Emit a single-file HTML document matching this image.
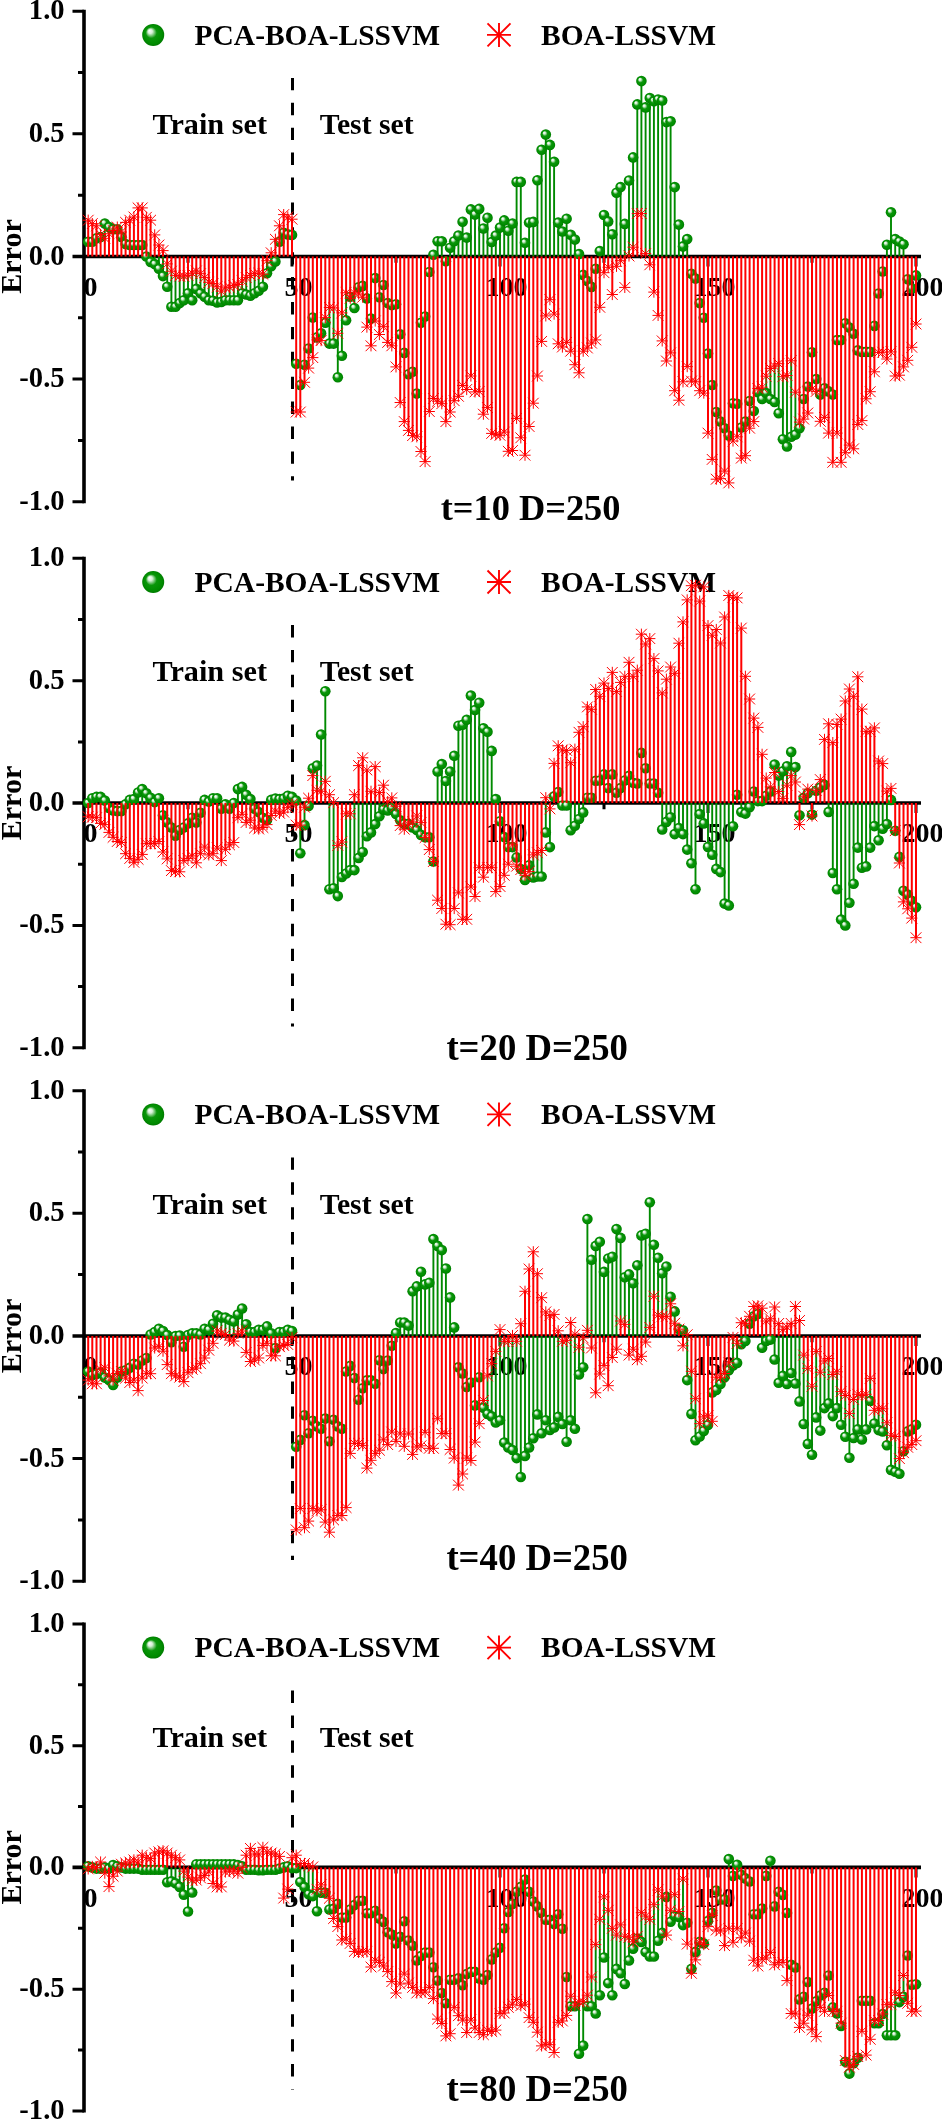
<!DOCTYPE html><html><head><meta charset="utf-8"><style>html,body{margin:0;padding:0;background:#fff;}svg{display:block;will-change:transform;}text{font-family:"Liberation Serif",serif;font-weight:bold;fill:#000;}</style></head><body>
<svg width="942" height="2120" viewBox="0 0 942 2120">
<defs><radialGradient id="gb" cx="0.5" cy="0.5" r="0.5" fx="0.33" fy="0.3"><stop offset="0" stop-color="#ffffff"/><stop offset="0.2" stop-color="#d8f0d8"/><stop offset="0.5" stop-color="#0a960a"/><stop offset="0.85" stop-color="#008c00"/><stop offset="1" stop-color="#007a00"/></radialGradient><g id="ball"><circle r="5.3" fill="url(#gb)"/></g><path id="ast" d="M-5.6 0H5.6M0 -5.6V5.6M-5.4 -5.4L5.4 5.4M-5.4 5.4L5.4 -5.4" stroke="#ff0000" stroke-width="1" fill="none"/></defs>
<rect width="942" height="2120" fill="#fff"/>
<text x="64.6" y="19.2" font-size="28.6" text-anchor="end">1.0</text>
<text x="64.6" y="141.8" font-size="28.6" text-anchor="end">0.5</text>
<text x="64.6" y="264.5" font-size="28.6" text-anchor="end">0.0</text>
<text x="64.6" y="387.1" font-size="28.6" text-anchor="end">-0.5</text>
<text x="64.6" y="509.8" font-size="28.6" text-anchor="end">-1.0</text>
<text transform="translate(21 256.5) rotate(-90)" font-size="30" text-anchor="middle">Error</text>
<text x="90.5" y="295.7" font-size="28" text-anchor="middle">0</text>
<text x="298.5" y="295.7" font-size="28" text-anchor="middle">50</text>
<text x="506.5" y="295.7" font-size="28" text-anchor="middle">100</text>
<text x="714.5" y="295.7" font-size="28" text-anchor="middle">150</text>
<text x="922.5" y="295.7" font-size="28" text-anchor="middle">200</text>
<circle cx="153.2" cy="34.9" r="11" fill="url(#gb)"/>
<text x="194.6" y="44.6" font-size="30" textLength="245.5" lengthAdjust="spacingAndGlyphs">PCA-BOA-LSSVM</text>
<path d="M487 34.9H511M499 22.9V46.9M487.5 23.4L510.5 46.4M487.5 46.4L510.5 23.4" stroke="#ff0000" stroke-width="1.9" fill="none"/>
<text x="541" y="44.6" font-size="30" textLength="175" lengthAdjust="spacingAndGlyphs">BOA-LSSVM</text>
<text x="152.5" y="134.2" font-size="30" textLength="114.5" lengthAdjust="spacingAndGlyphs">Train set</text>
<text x="319.8" y="134.2" font-size="30" textLength="93.8" lengthAdjust="spacingAndGlyphs">Test set</text>
<text x="440.7" y="520.0" font-size="35.5" textLength="179.8" lengthAdjust="spacingAndGlyphs">t=10 D=250</text>
<line x1="292.5" y1="77.9" x2="292.5" y2="480.5" stroke="#000" stroke-width="3" stroke-dasharray="12.4 12.5"/>
<line x1="84.0" y1="9.7" x2="84.0" y2="503.3" stroke="#000" stroke-width="3.6"/>
<path d="M72.5 11.2H84.0M72.5 133.8H84.0M72.5 379.1H84.0M72.5 501.8H84.0M78 72.5H84.0M78 195.2H84.0M78 317.8H84.0M78 440.5H84.0M188.0 256.5V262.7M396.0 256.5V262.7M604.0 256.5V262.7M812.0 256.5V262.7M292.0 256.5V266.5M500.0 256.5V266.5M708.0 256.5V266.5M916.0 256.5V266.5" stroke="#000" stroke-width="3" fill="none"/>
<line x1="72.5" y1="256.5" x2="921" y2="256.5" stroke="#000" stroke-width="3.7"/>
<path d="M104.8 238.3V223.6M109.0 233.7V227.1M113.1 230.5V229.3M146.4 256.5V256.5M150.6 256.5V261.9M154.7 256.5V264.1M158.9 256.5V268.8M163.0 256.5V276.1M167.2 263.9V286.7M171.4 271.2V306.8M175.5 275.4V306.8M179.7 276.1V303.1M183.8 276.1V300.2M188.0 275.4V293.3M192.2 273.2V300.2M196.3 271.0V288.9M200.5 273.7V293.3M204.6 277.6V296.7M208.8 282.3V300.2M213.0 283.5V300.7M217.1 286.7V302.4M221.3 291.1V301.9M225.4 287.9V300.2M229.6 287.2V300.2M233.8 285.4V300.2M237.9 284.5V300.2M242.1 281.0V293.3M246.2 277.6V294.5M250.4 275.4V295.7M254.6 273.7V293.3M258.7 273.2V290.8M262.9 274.2V286.7M267.0 260.7V273.2M271.2 256.5V266.3M275.4 256.5V261.4M325.3 317.6V322.7M329.4 307.5V343.6M333.6 308.0V343.6M337.8 333.3V377.2M341.9 312.9V355.8M346.1 292.8V320.3M354.4 292.8V308.0M433.4 256.5V254.8M437.6 256.5V241.3M441.8 256.5V241.3M450.1 256.5V247.7M454.2 256.5V241.3M458.4 256.5V235.6M462.6 256.5V221.7M466.7 256.5V237.6M470.9 256.5V209.4M475.0 256.5V214.6M479.2 256.5V208.9M483.4 256.5V228.5M487.5 256.5V217.7M491.7 256.5V242.0M495.8 256.5V235.6M500.0 256.5V227.6M504.2 256.5V220.4M508.3 256.5V230.7M512.5 256.5V223.6M516.6 256.5V181.9M520.8 256.5V181.9M525.0 256.5V242.8M529.1 256.5V222.6M533.3 256.5V221.9M537.4 256.5V180.2M541.6 256.5V149.8M545.8 256.5V134.6M549.9 256.5V144.9M554.1 256.5V161.8M558.2 256.5V222.6M562.4 256.5V231.5M566.6 256.5V218.7M570.7 256.5V234.7M574.9 256.5V239.6M579.0 256.5V254.0M599.8 256.5V251.1M604.0 256.5V215.0M608.2 256.5V221.4M612.3 256.5V234.2M616.5 256.5V192.7M620.6 256.5V187.1M624.8 256.5V223.9M629.0 256.0V180.5M633.1 247.2V157.4M637.3 213.6V104.4M641.4 213.6V81.1M645.6 253.6V107.4M649.8 256.5V98.0M653.9 256.5V101.2M658.1 256.5V99.5M662.2 256.5V100.5M666.4 256.5V122.1M670.6 256.5V121.3M674.7 256.5V187.1M678.9 256.5V224.6M683.0 256.5V246.4M687.2 256.5V239.1M757.9 388.5V392.2M762.1 387.2V399.0M766.2 376.2V393.1M770.4 368.4V399.0M774.6 366.1V402.0M778.7 363.7V413.2M782.9 376.7V439.2M787.0 375.5V446.4M791.2 360.8V436.8M795.4 392.2V434.6M799.5 422.1V428.2M886.9 256.5V244.7M891.0 256.5V212.3M895.2 256.5V239.1M899.4 256.5V241.5M903.5 256.5V244.2" stroke="#008a00" stroke-width="1.9" fill="none"/>
<use href="#ball" x="88.2" y="241.8"/><use href="#ball" x="92.3" y="241.8"/><use href="#ball" x="96.5" y="238.3"/><use href="#ball" x="100.6" y="237.1"/><use href="#ball" x="104.8" y="223.6"/><use href="#ball" x="109.0" y="227.1"/><use href="#ball" x="113.1" y="229.3"/><use href="#ball" x="117.3" y="229.3"/><use href="#ball" x="121.4" y="236.9"/><use href="#ball" x="125.6" y="244.0"/><use href="#ball" x="129.8" y="245.0"/><use href="#ball" x="133.9" y="245.0"/><use href="#ball" x="138.1" y="245.0"/><use href="#ball" x="142.2" y="245.0"/><use href="#ball" x="146.4" y="256.5"/><use href="#ball" x="150.6" y="261.9"/><use href="#ball" x="154.7" y="264.1"/><use href="#ball" x="158.9" y="268.8"/><use href="#ball" x="163.0" y="276.1"/><use href="#ball" x="167.2" y="286.7"/><use href="#ball" x="171.4" y="306.8"/><use href="#ball" x="175.5" y="306.8"/><use href="#ball" x="179.7" y="303.1"/><use href="#ball" x="183.8" y="300.2"/><use href="#ball" x="188.0" y="293.3"/><use href="#ball" x="192.2" y="300.2"/><use href="#ball" x="196.3" y="288.9"/><use href="#ball" x="200.5" y="293.3"/><use href="#ball" x="204.6" y="296.7"/><use href="#ball" x="208.8" y="300.2"/><use href="#ball" x="213.0" y="300.7"/><use href="#ball" x="217.1" y="302.4"/><use href="#ball" x="221.3" y="301.9"/><use href="#ball" x="225.4" y="300.2"/><use href="#ball" x="229.6" y="300.2"/><use href="#ball" x="233.8" y="300.2"/><use href="#ball" x="237.9" y="300.2"/><use href="#ball" x="242.1" y="293.3"/><use href="#ball" x="246.2" y="294.5"/><use href="#ball" x="250.4" y="295.7"/><use href="#ball" x="254.6" y="293.3"/><use href="#ball" x="258.7" y="290.8"/><use href="#ball" x="262.9" y="286.7"/><use href="#ball" x="267.0" y="273.2"/><use href="#ball" x="271.2" y="266.3"/><use href="#ball" x="275.4" y="261.4"/><use href="#ball" x="279.5" y="241.8"/><use href="#ball" x="283.7" y="232.7"/><use href="#ball" x="287.8" y="234.4"/><use href="#ball" x="292.0" y="234.9"/><use href="#ball" x="296.2" y="363.7"/><use href="#ball" x="300.3" y="385.0"/><use href="#ball" x="304.5" y="364.7"/><use href="#ball" x="308.6" y="348.5"/><use href="#ball" x="312.8" y="317.6"/><use href="#ball" x="317.0" y="337.4"/><use href="#ball" x="321.1" y="333.3"/><use href="#ball" x="325.3" y="322.7"/><use href="#ball" x="329.4" y="343.6"/><use href="#ball" x="333.6" y="343.6"/><use href="#ball" x="337.8" y="377.2"/><use href="#ball" x="341.9" y="355.8"/><use href="#ball" x="346.1" y="320.3"/><use href="#ball" x="350.2" y="296.7"/><use href="#ball" x="354.4" y="308.0"/><use href="#ball" x="358.6" y="287.2"/><use href="#ball" x="362.7" y="285.9"/><use href="#ball" x="366.9" y="298.4"/><use href="#ball" x="371.0" y="318.6"/><use href="#ball" x="375.2" y="278.1"/><use href="#ball" x="379.4" y="297.2"/><use href="#ball" x="383.5" y="285.0"/><use href="#ball" x="387.7" y="303.1"/><use href="#ball" x="391.8" y="305.1"/><use href="#ball" x="396.0" y="304.3"/><use href="#ball" x="400.2" y="334.3"/><use href="#ball" x="404.3" y="352.9"/><use href="#ball" x="408.5" y="374.2"/><use href="#ball" x="412.6" y="371.8"/><use href="#ball" x="416.8" y="393.6"/><use href="#ball" x="421.0" y="322.7"/><use href="#ball" x="425.1" y="316.6"/><use href="#ball" x="429.3" y="272.0"/><use href="#ball" x="433.4" y="254.8"/><use href="#ball" x="437.6" y="241.3"/><use href="#ball" x="441.8" y="241.3"/><use href="#ball" x="445.9" y="261.2"/><use href="#ball" x="450.1" y="247.7"/><use href="#ball" x="454.2" y="241.3"/><use href="#ball" x="458.4" y="235.6"/><use href="#ball" x="462.6" y="221.7"/><use href="#ball" x="466.7" y="237.6"/><use href="#ball" x="470.9" y="209.4"/><use href="#ball" x="475.0" y="214.6"/><use href="#ball" x="479.2" y="208.9"/><use href="#ball" x="483.4" y="228.5"/><use href="#ball" x="487.5" y="217.7"/><use href="#ball" x="491.7" y="242.0"/><use href="#ball" x="495.8" y="235.6"/><use href="#ball" x="500.0" y="227.6"/><use href="#ball" x="504.2" y="220.4"/><use href="#ball" x="508.3" y="230.7"/><use href="#ball" x="512.5" y="223.6"/><use href="#ball" x="516.6" y="181.9"/><use href="#ball" x="520.8" y="181.9"/><use href="#ball" x="525.0" y="242.8"/><use href="#ball" x="529.1" y="222.6"/><use href="#ball" x="533.3" y="221.9"/><use href="#ball" x="537.4" y="180.2"/><use href="#ball" x="541.6" y="149.8"/><use href="#ball" x="545.8" y="134.6"/><use href="#ball" x="549.9" y="144.9"/><use href="#ball" x="554.1" y="161.8"/><use href="#ball" x="558.2" y="222.6"/><use href="#ball" x="562.4" y="231.5"/><use href="#ball" x="566.6" y="218.7"/><use href="#ball" x="570.7" y="234.7"/><use href="#ball" x="574.9" y="239.6"/><use href="#ball" x="579.0" y="254.0"/><use href="#ball" x="583.2" y="274.9"/><use href="#ball" x="587.4" y="281.0"/><use href="#ball" x="591.5" y="286.9"/><use href="#ball" x="595.7" y="268.8"/><use href="#ball" x="599.8" y="251.1"/><use href="#ball" x="604.0" y="215.0"/><use href="#ball" x="608.2" y="221.4"/><use href="#ball" x="612.3" y="234.2"/><use href="#ball" x="616.5" y="192.7"/><use href="#ball" x="620.6" y="187.1"/><use href="#ball" x="624.8" y="223.9"/><use href="#ball" x="629.0" y="180.5"/><use href="#ball" x="633.1" y="157.4"/><use href="#ball" x="637.3" y="104.4"/><use href="#ball" x="641.4" y="81.1"/><use href="#ball" x="645.6" y="107.4"/><use href="#ball" x="649.8" y="98.0"/><use href="#ball" x="653.9" y="101.2"/><use href="#ball" x="658.1" y="99.5"/><use href="#ball" x="662.2" y="100.5"/><use href="#ball" x="666.4" y="122.1"/><use href="#ball" x="670.6" y="121.3"/><use href="#ball" x="674.7" y="187.1"/><use href="#ball" x="678.9" y="224.6"/><use href="#ball" x="683.0" y="246.4"/><use href="#ball" x="687.2" y="239.1"/><use href="#ball" x="691.4" y="273.7"/><use href="#ball" x="695.5" y="278.6"/><use href="#ball" x="699.7" y="303.1"/><use href="#ball" x="703.8" y="317.8"/><use href="#ball" x="708.0" y="353.6"/><use href="#ball" x="712.2" y="385.0"/><use href="#ball" x="716.3" y="412.0"/><use href="#ball" x="720.5" y="421.6"/><use href="#ball" x="724.6" y="428.2"/><use href="#ball" x="728.8" y="435.6"/><use href="#ball" x="733.0" y="403.2"/><use href="#ball" x="737.1" y="403.7"/><use href="#ball" x="741.3" y="427.5"/><use href="#ball" x="745.4" y="421.6"/><use href="#ball" x="749.6" y="401.0"/><use href="#ball" x="753.8" y="411.0"/><use href="#ball" x="757.9" y="392.2"/><use href="#ball" x="762.1" y="399.0"/><use href="#ball" x="766.2" y="393.1"/><use href="#ball" x="770.4" y="399.0"/><use href="#ball" x="774.6" y="402.0"/><use href="#ball" x="778.7" y="413.2"/><use href="#ball" x="782.9" y="439.2"/><use href="#ball" x="787.0" y="446.4"/><use href="#ball" x="791.2" y="436.8"/><use href="#ball" x="795.4" y="434.6"/><use href="#ball" x="799.5" y="428.2"/><use href="#ball" x="803.7" y="399.0"/><use href="#ball" x="807.8" y="386.5"/><use href="#ball" x="812.0" y="352.2"/><use href="#ball" x="816.2" y="379.1"/><use href="#ball" x="820.3" y="394.6"/><use href="#ball" x="824.5" y="388.2"/><use href="#ball" x="828.6" y="391.4"/><use href="#ball" x="832.8" y="394.6"/><use href="#ball" x="837.0" y="340.1"/><use href="#ball" x="841.1" y="340.1"/><use href="#ball" x="845.3" y="323.2"/><use href="#ball" x="849.4" y="327.6"/><use href="#ball" x="853.6" y="333.8"/><use href="#ball" x="857.8" y="350.4"/><use href="#ball" x="861.9" y="351.9"/><use href="#ball" x="866.1" y="351.9"/><use href="#ball" x="870.2" y="351.9"/><use href="#ball" x="874.4" y="325.9"/><use href="#ball" x="878.6" y="293.5"/><use href="#ball" x="882.7" y="271.5"/><use href="#ball" x="886.9" y="244.7"/><use href="#ball" x="891.0" y="212.3"/><use href="#ball" x="895.2" y="239.1"/><use href="#ball" x="899.4" y="241.5"/><use href="#ball" x="903.5" y="244.2"/><use href="#ball" x="907.7" y="279.3"/><use href="#ball" x="911.8" y="288.4"/><use href="#ball" x="916.0" y="275.4"/>
<path d="M88.2 256.5V220.2M92.3 256.5V223.6M96.5 256.5V225.8M100.6 256.5V234.4M104.8 256.5V238.3M109.0 256.5V233.7M113.1 256.5V230.5M117.3 256.5V227.1M121.4 256.5V232.0M125.6 256.5V222.4M129.8 256.5V220.2M133.9 256.5V217.0M138.1 256.5V207.9M142.2 256.5V207.9M146.4 256.5V217.3M150.6 256.5V220.2M154.7 256.5V234.9M158.9 256.5V245.0M163.0 256.5V250.6M167.2 256.5V263.9M171.4 256.5V271.2M175.5 256.5V275.4M179.7 256.5V276.1M183.8 256.5V276.1M188.0 256.5V275.4M192.2 256.5V273.2M196.3 256.5V271.0M200.5 256.5V273.7M204.6 256.5V277.6M208.8 256.5V282.3M213.0 256.5V283.5M217.1 256.5V286.7M221.3 256.5V291.1M225.4 256.5V287.9M229.6 256.5V287.2M233.8 256.5V285.4M237.9 256.5V284.5M242.1 256.5V281.0M246.2 256.5V277.6M250.4 256.5V275.4M254.6 256.5V273.7M258.7 256.5V273.2M262.9 256.5V274.2M267.0 256.5V260.7M271.2 256.5V252.8M275.4 256.5V239.3M279.5 256.5V225.8M283.7 256.5V214.6M287.8 256.5V217.0M292.0 256.5V219.2M296.2 256.5V412.0M300.3 256.5V412.0M304.5 256.5V382.3M308.6 256.5V368.1M312.8 256.5V357.6M317.0 256.5V339.9M321.1 256.5V340.6M325.3 256.5V317.6M329.4 256.5V307.5M333.6 256.5V308.0M337.8 256.5V333.3M341.9 256.5V312.9M346.1 256.5V292.8M350.2 256.5V298.2M354.4 256.5V292.8M358.6 256.5V294.0M362.7 256.5V297.2M366.9 256.5V327.1M371.0 256.5V345.8M375.2 256.5V321.0M379.4 256.5V334.5M383.5 256.5V326.7M387.7 256.5V342.4M391.8 256.5V345.8M396.0 256.5V366.9M400.2 256.5V402.5M404.3 256.5V421.6M408.5 256.5V430.4M412.6 256.5V435.6M416.8 256.5V436.8M421.0 256.5V451.5M425.1 256.5V461.6M429.3 256.5V411.5M433.4 256.5V398.5M437.6 256.5V401.2M441.8 256.5V403.7M445.9 256.5V421.6M450.1 256.5V412.0M454.2 256.5V400.7M458.4 256.5V396.3M462.6 256.5V385.5M466.7 256.5V389.5M470.9 256.5V376.0M475.0 256.5V391.9M479.2 256.5V391.4M483.4 256.5V414.2M487.5 256.5V407.6M491.7 256.5V433.4M495.8 256.5V434.6M500.0 256.5V435.3M504.2 256.5V432.1M508.3 256.5V451.3M512.5 256.5V450.5M516.6 256.5V418.4M520.8 256.5V437.8M525.0 256.5V455.2M529.1 256.5V426.5M533.3 256.5V403.2M537.4 256.5V376.0M541.6 256.5V341.4M545.8 256.5V315.9M549.9 256.5V299.7M554.1 256.5V314.1M558.2 256.5V343.8M562.4 256.5V347.0M566.6 256.5V342.4M570.7 256.5V351.2M574.9 256.5V364.7M579.0 256.5V372.8M583.2 256.5V351.2M587.4 256.5V348.0M591.5 256.5V343.1M595.7 256.5V339.9M599.8 256.5V307.3M604.0 256.5V272.7M608.2 256.5V267.3M612.3 256.5V294.5M616.5 256.5V266.3M620.6 256.5V260.7M624.8 256.5V287.4M629.0 256.5V256.0M633.1 256.5V247.2M637.3 256.5V213.6M641.4 256.5V213.6M645.6 256.5V253.6M649.8 256.5V264.8M653.9 256.5V292.1M658.1 256.5V315.4M662.2 256.5V340.9M666.4 256.5V361.0M670.6 256.5V352.9M674.7 256.5V390.7M678.9 256.5V400.2M683.0 256.5V381.8M687.2 256.5V366.6M691.4 256.5V381.1M695.5 256.5V381.8M699.7 256.5V390.7M703.8 256.5V393.1M708.0 256.5V433.1M712.2 256.5V459.4M716.3 256.5V479.2M720.5 256.5V478.7M724.6 256.5V471.1M728.8 256.5V482.9M733.0 256.5V441.0M737.1 256.5V436.8M741.3 256.5V458.1M745.4 256.5V455.7M749.6 256.5V428.2M753.8 256.5V421.6M757.9 256.5V388.5M762.1 256.5V387.2M766.2 256.5V376.2M770.4 256.5V368.4M774.6 256.5V366.1M778.7 256.5V363.7M782.9 256.5V376.7M787.0 256.5V375.5M791.2 256.5V360.8M795.4 256.5V392.2M799.5 256.5V422.1M803.7 256.5V419.1M807.8 256.5V413.0M812.0 256.5V389.0M816.2 256.5V391.4M820.3 256.5V421.3M824.5 256.5V417.4M828.6 256.5V433.1M832.8 256.5V462.3M837.0 256.5V433.1M841.1 256.5V462.3M845.3 256.5V452.7M849.4 256.5V445.1M853.6 256.5V448.8M857.8 256.5V424.5M861.9 256.5V420.6M866.1 256.5V398.8M870.2 256.5V391.7M874.4 256.5V371.8M878.6 256.5V352.4M882.7 256.5V352.2M886.9 256.5V359.0M891.0 256.5V351.9M895.2 256.5V376.0M899.4 256.5V375.2M903.5 256.5V366.9M907.7 256.5V360.3M911.8 256.5V347.3M916.0 256.5V324.0" stroke="#ff0000" stroke-width="2" fill="none"/>
<use href="#ast" x="88.2" y="220.2"/><use href="#ast" x="92.3" y="223.6"/><use href="#ast" x="96.5" y="225.8"/><use href="#ast" x="100.6" y="234.4"/><use href="#ast" x="104.8" y="238.3"/><use href="#ast" x="109.0" y="233.7"/><use href="#ast" x="113.1" y="230.5"/><use href="#ast" x="117.3" y="227.1"/><use href="#ast" x="121.4" y="232.0"/><use href="#ast" x="125.6" y="222.4"/><use href="#ast" x="129.8" y="220.2"/><use href="#ast" x="133.9" y="217.0"/><use href="#ast" x="138.1" y="207.9"/><use href="#ast" x="142.2" y="207.9"/><use href="#ast" x="146.4" y="217.3"/><use href="#ast" x="150.6" y="220.2"/><use href="#ast" x="154.7" y="234.9"/><use href="#ast" x="158.9" y="245.0"/><use href="#ast" x="163.0" y="250.6"/><use href="#ast" x="167.2" y="263.9"/><use href="#ast" x="171.4" y="271.2"/><use href="#ast" x="175.5" y="275.4"/><use href="#ast" x="179.7" y="276.1"/><use href="#ast" x="183.8" y="276.1"/><use href="#ast" x="188.0" y="275.4"/><use href="#ast" x="192.2" y="273.2"/><use href="#ast" x="196.3" y="271.0"/><use href="#ast" x="200.5" y="273.7"/><use href="#ast" x="204.6" y="277.6"/><use href="#ast" x="208.8" y="282.3"/><use href="#ast" x="213.0" y="283.5"/><use href="#ast" x="217.1" y="286.7"/><use href="#ast" x="221.3" y="291.1"/><use href="#ast" x="225.4" y="287.9"/><use href="#ast" x="229.6" y="287.2"/><use href="#ast" x="233.8" y="285.4"/><use href="#ast" x="237.9" y="284.5"/><use href="#ast" x="242.1" y="281.0"/><use href="#ast" x="246.2" y="277.6"/><use href="#ast" x="250.4" y="275.4"/><use href="#ast" x="254.6" y="273.7"/><use href="#ast" x="258.7" y="273.2"/><use href="#ast" x="262.9" y="274.2"/><use href="#ast" x="267.0" y="260.7"/><use href="#ast" x="271.2" y="252.8"/><use href="#ast" x="275.4" y="239.3"/><use href="#ast" x="279.5" y="225.8"/><use href="#ast" x="283.7" y="214.6"/><use href="#ast" x="287.8" y="217.0"/><use href="#ast" x="292.0" y="219.2"/><use href="#ast" x="296.2" y="412.0"/><use href="#ast" x="300.3" y="412.0"/><use href="#ast" x="304.5" y="382.3"/><use href="#ast" x="308.6" y="368.1"/><use href="#ast" x="312.8" y="357.6"/><use href="#ast" x="317.0" y="339.9"/><use href="#ast" x="321.1" y="340.6"/><use href="#ast" x="325.3" y="317.6"/><use href="#ast" x="329.4" y="307.5"/><use href="#ast" x="333.6" y="308.0"/><use href="#ast" x="337.8" y="333.3"/><use href="#ast" x="341.9" y="312.9"/><use href="#ast" x="346.1" y="292.8"/><use href="#ast" x="350.2" y="298.2"/><use href="#ast" x="354.4" y="292.8"/><use href="#ast" x="358.6" y="294.0"/><use href="#ast" x="362.7" y="297.2"/><use href="#ast" x="366.9" y="327.1"/><use href="#ast" x="371.0" y="345.8"/><use href="#ast" x="375.2" y="321.0"/><use href="#ast" x="379.4" y="334.5"/><use href="#ast" x="383.5" y="326.7"/><use href="#ast" x="387.7" y="342.4"/><use href="#ast" x="391.8" y="345.8"/><use href="#ast" x="396.0" y="366.9"/><use href="#ast" x="400.2" y="402.5"/><use href="#ast" x="404.3" y="421.6"/><use href="#ast" x="408.5" y="430.4"/><use href="#ast" x="412.6" y="435.6"/><use href="#ast" x="416.8" y="436.8"/><use href="#ast" x="421.0" y="451.5"/><use href="#ast" x="425.1" y="461.6"/><use href="#ast" x="429.3" y="411.5"/><use href="#ast" x="433.4" y="398.5"/><use href="#ast" x="437.6" y="401.2"/><use href="#ast" x="441.8" y="403.7"/><use href="#ast" x="445.9" y="421.6"/><use href="#ast" x="450.1" y="412.0"/><use href="#ast" x="454.2" y="400.7"/><use href="#ast" x="458.4" y="396.3"/><use href="#ast" x="462.6" y="385.5"/><use href="#ast" x="466.7" y="389.5"/><use href="#ast" x="470.9" y="376.0"/><use href="#ast" x="475.0" y="391.9"/><use href="#ast" x="479.2" y="391.4"/><use href="#ast" x="483.4" y="414.2"/><use href="#ast" x="487.5" y="407.6"/><use href="#ast" x="491.7" y="433.4"/><use href="#ast" x="495.8" y="434.6"/><use href="#ast" x="500.0" y="435.3"/><use href="#ast" x="504.2" y="432.1"/><use href="#ast" x="508.3" y="451.3"/><use href="#ast" x="512.5" y="450.5"/><use href="#ast" x="516.6" y="418.4"/><use href="#ast" x="520.8" y="437.8"/><use href="#ast" x="525.0" y="455.2"/><use href="#ast" x="529.1" y="426.5"/><use href="#ast" x="533.3" y="403.2"/><use href="#ast" x="537.4" y="376.0"/><use href="#ast" x="541.6" y="341.4"/><use href="#ast" x="545.8" y="315.9"/><use href="#ast" x="549.9" y="299.7"/><use href="#ast" x="554.1" y="314.1"/><use href="#ast" x="558.2" y="343.8"/><use href="#ast" x="562.4" y="347.0"/><use href="#ast" x="566.6" y="342.4"/><use href="#ast" x="570.7" y="351.2"/><use href="#ast" x="574.9" y="364.7"/><use href="#ast" x="579.0" y="372.8"/><use href="#ast" x="583.2" y="351.2"/><use href="#ast" x="587.4" y="348.0"/><use href="#ast" x="591.5" y="343.1"/><use href="#ast" x="595.7" y="339.9"/><use href="#ast" x="599.8" y="307.3"/><use href="#ast" x="604.0" y="272.7"/><use href="#ast" x="608.2" y="267.3"/><use href="#ast" x="612.3" y="294.5"/><use href="#ast" x="616.5" y="266.3"/><use href="#ast" x="620.6" y="260.7"/><use href="#ast" x="624.8" y="287.4"/><use href="#ast" x="629.0" y="256.0"/><use href="#ast" x="633.1" y="247.2"/><use href="#ast" x="637.3" y="213.6"/><use href="#ast" x="641.4" y="213.6"/><use href="#ast" x="645.6" y="253.6"/><use href="#ast" x="649.8" y="264.8"/><use href="#ast" x="653.9" y="292.1"/><use href="#ast" x="658.1" y="315.4"/><use href="#ast" x="662.2" y="340.9"/><use href="#ast" x="666.4" y="361.0"/><use href="#ast" x="670.6" y="352.9"/><use href="#ast" x="674.7" y="390.7"/><use href="#ast" x="678.9" y="400.2"/><use href="#ast" x="683.0" y="381.8"/><use href="#ast" x="687.2" y="366.6"/><use href="#ast" x="691.4" y="381.1"/><use href="#ast" x="695.5" y="381.8"/><use href="#ast" x="699.7" y="390.7"/><use href="#ast" x="703.8" y="393.1"/><use href="#ast" x="708.0" y="433.1"/><use href="#ast" x="712.2" y="459.4"/><use href="#ast" x="716.3" y="479.2"/><use href="#ast" x="720.5" y="478.7"/><use href="#ast" x="724.6" y="471.1"/><use href="#ast" x="728.8" y="482.9"/><use href="#ast" x="733.0" y="441.0"/><use href="#ast" x="737.1" y="436.8"/><use href="#ast" x="741.3" y="458.1"/><use href="#ast" x="745.4" y="455.7"/><use href="#ast" x="749.6" y="428.2"/><use href="#ast" x="753.8" y="421.6"/><use href="#ast" x="757.9" y="388.5"/><use href="#ast" x="762.1" y="387.2"/><use href="#ast" x="766.2" y="376.2"/><use href="#ast" x="770.4" y="368.4"/><use href="#ast" x="774.6" y="366.1"/><use href="#ast" x="778.7" y="363.7"/><use href="#ast" x="782.9" y="376.7"/><use href="#ast" x="787.0" y="375.5"/><use href="#ast" x="791.2" y="360.8"/><use href="#ast" x="795.4" y="392.2"/><use href="#ast" x="799.5" y="422.1"/><use href="#ast" x="803.7" y="419.1"/><use href="#ast" x="807.8" y="413.0"/><use href="#ast" x="812.0" y="389.0"/><use href="#ast" x="816.2" y="391.4"/><use href="#ast" x="820.3" y="421.3"/><use href="#ast" x="824.5" y="417.4"/><use href="#ast" x="828.6" y="433.1"/><use href="#ast" x="832.8" y="462.3"/><use href="#ast" x="837.0" y="433.1"/><use href="#ast" x="841.1" y="462.3"/><use href="#ast" x="845.3" y="452.7"/><use href="#ast" x="849.4" y="445.1"/><use href="#ast" x="853.6" y="448.8"/><use href="#ast" x="857.8" y="424.5"/><use href="#ast" x="861.9" y="420.6"/><use href="#ast" x="866.1" y="398.8"/><use href="#ast" x="870.2" y="391.7"/><use href="#ast" x="874.4" y="371.8"/><use href="#ast" x="878.6" y="352.4"/><use href="#ast" x="882.7" y="352.2"/><use href="#ast" x="886.9" y="359.0"/><use href="#ast" x="891.0" y="351.9"/><use href="#ast" x="895.2" y="376.0"/><use href="#ast" x="899.4" y="375.2"/><use href="#ast" x="903.5" y="366.9"/><use href="#ast" x="907.7" y="360.3"/><use href="#ast" x="911.8" y="347.3"/><use href="#ast" x="916.0" y="324.0"/>
<text x="64.6" y="566.3" font-size="28.6" text-anchor="end">1.0</text>
<text x="64.6" y="688.7" font-size="28.6" text-anchor="end">0.5</text>
<text x="64.6" y="811.0" font-size="28.6" text-anchor="end">0.0</text>
<text x="64.6" y="933.4" font-size="28.6" text-anchor="end">-0.5</text>
<text x="64.6" y="1055.8" font-size="28.6" text-anchor="end">-1.0</text>
<text transform="translate(21 803.0) rotate(-90)" font-size="30" text-anchor="middle">Error</text>
<text x="90.5" y="842.2" font-size="28" text-anchor="middle">0</text>
<text x="298.5" y="842.2" font-size="28" text-anchor="middle">50</text>
<text x="506.5" y="842.2" font-size="28" text-anchor="middle">100</text>
<text x="714.5" y="842.2" font-size="28" text-anchor="middle">150</text>
<text x="922.5" y="842.2" font-size="28" text-anchor="middle">200</text>
<circle cx="153.2" cy="582.0" r="11" fill="url(#gb)"/>
<text x="194.6" y="591.7" font-size="30" textLength="245.5" lengthAdjust="spacingAndGlyphs">PCA-BOA-LSSVM</text>
<path d="M487 582.0H511M499 570.0V594.0M487.5 570.5L510.5 593.5M487.5 593.5L510.5 570.5" stroke="#ff0000" stroke-width="1.9" fill="none"/>
<text x="541" y="591.7" font-size="30" textLength="175" lengthAdjust="spacingAndGlyphs">BOA-LSSVM</text>
<text x="152.5" y="681.3" font-size="30" textLength="114.5" lengthAdjust="spacingAndGlyphs">Train set</text>
<text x="319.8" y="681.3" font-size="30" textLength="93.8" lengthAdjust="spacingAndGlyphs">Test set</text>
<text x="446.4" y="1059.6" font-size="37" textLength="181.5" lengthAdjust="spacingAndGlyphs">t=20 D=250</text>
<line x1="292.5" y1="625.0" x2="292.5" y2="1026.5" stroke="#000" stroke-width="3" stroke-dasharray="12.4 12.5"/>
<line x1="84.0" y1="556.8" x2="84.0" y2="1049.3" stroke="#000" stroke-width="3.6"/>
<path d="M72.5 558.3H84.0M72.5 680.7H84.0M72.5 925.4H84.0M72.5 1047.8H84.0M78 619.5H84.0M78 741.9H84.0M78 864.2H84.0M78 986.6H84.0M188.0 803.0V809.2M396.0 803.0V809.2M604.0 803.0V809.2M812.0 803.0V809.2M292.0 803.0V813.0M500.0 803.0V813.0M708.0 803.0V813.0M916.0 803.0V813.0" stroke="#000" stroke-width="3" fill="none"/>
<line x1="72.5" y1="803.0" x2="921" y2="803.0" stroke="#000" stroke-width="3.7"/>
<path d="M88.2 803.0V803.0M92.3 803.0V798.2M96.5 803.0V796.9M100.6 803.0V796.9M104.8 803.0V800.6M129.8 803.0V799.9M133.9 803.0V799.1M138.1 803.0V792.5M142.2 803.0V789.1M146.4 803.0V793.3M150.6 803.0V797.7M154.7 803.0V802.1M158.9 803.0V798.2M204.6 803.0V799.9M208.8 803.0V801.6M213.0 803.0V798.2M217.1 803.0V798.2M233.8 803.0V803.0M237.9 803.0V789.1M242.1 803.0V786.9M246.2 803.0V794.7M250.4 803.0V799.1M271.2 803.0V799.9M275.4 803.0V798.6M279.5 803.0V799.1M283.7 803.0V798.6M287.8 803.0V795.7M292.0 803.0V796.9M296.2 803.0V800.6M300.3 825.1V853.2M304.5 807.2V825.1M308.6 803.0V806.0M312.8 775.6V768.3M317.0 790.3V765.6M321.1 791.3V734.5M325.3 781.3V691.2M329.4 803.0V889.2M333.6 803.0V888.2M337.8 845.4V896.1M341.9 842.0V877.0M346.1 813.8V873.5M350.2 813.8V870.1M354.4 803.0V870.1M358.6 803.0V857.9M362.7 803.0V852.0M366.9 803.0V836.3M371.0 803.0V832.4M375.2 803.0V824.1M379.4 803.0V816.3M383.5 803.0V809.4M387.7 803.0V810.4M391.8 803.0V807.9M396.0 806.2V814.1M412.6 821.9V827.5M416.8 816.0V830.0M421.0 822.6V834.9M437.6 803.0V771.5M441.8 803.0V764.1M445.9 803.0V781.0M450.1 803.0V771.5M454.2 803.0V755.8M458.4 803.0V725.7M462.6 803.0V724.7M466.7 803.0V719.8M470.9 803.0V695.6M475.0 803.0V710.0M479.2 803.0V702.7M483.4 803.0V728.2M487.5 803.0V731.8M491.7 803.0V750.9M495.8 803.0V799.1M512.5 844.9V847.1M525.0 875.3V879.9M533.3 854.9V877.5M537.4 852.7V876.5M541.6 850.5V876.5M545.8 803.0V832.4M549.9 808.9V847.1M562.4 803.0V805.5M566.6 803.0V805.5M570.7 803.0V830.2M574.9 803.0V825.8M579.0 803.0V819.0M583.2 803.0V812.4M662.2 803.0V829.5M666.4 803.0V821.9M670.6 803.0V817.2M674.7 803.0V834.1M678.9 803.0V828.0M683.0 803.0V834.1M687.2 803.0V849.6M691.4 803.0V863.3M695.5 803.0V889.2M699.7 803.0V814.1M703.8 803.0V823.4M708.0 803.0V846.9M712.2 803.0V854.7M716.3 803.0V868.9M720.5 803.0V872.1M724.6 803.0V903.6M728.8 803.0V905.4M733.0 803.0V826.3M741.3 803.0V812.1M745.4 803.0V813.6M749.6 803.0V807.2M774.6 772.5V764.6M778.7 791.5V775.6M782.9 798.6V771.2M787.0 785.2V766.3M791.2 775.6V751.9M795.4 782.0V767.1M828.6 803.0V811.9M832.8 803.0V873.0M837.0 803.0V889.2M841.1 803.0V919.6M845.3 803.0V925.4M849.4 803.0V902.7M853.6 803.0V883.8M857.8 803.0V847.6M861.9 803.0V867.7M866.1 803.0V866.4M870.2 803.0V847.6M874.4 803.0V826.1M878.6 803.0V840.3M882.7 803.0V828.7M886.9 803.0V824.1" stroke="#008a00" stroke-width="1.9" fill="none"/>
<use href="#ball" x="88.2" y="803.0"/><use href="#ball" x="92.3" y="798.2"/><use href="#ball" x="96.5" y="796.9"/><use href="#ball" x="100.6" y="796.9"/><use href="#ball" x="104.8" y="800.6"/><use href="#ball" x="109.0" y="807.9"/><use href="#ball" x="113.1" y="810.4"/><use href="#ball" x="117.3" y="811.1"/><use href="#ball" x="121.4" y="811.1"/><use href="#ball" x="125.6" y="804.3"/><use href="#ball" x="129.8" y="799.9"/><use href="#ball" x="133.9" y="799.1"/><use href="#ball" x="138.1" y="792.5"/><use href="#ball" x="142.2" y="789.1"/><use href="#ball" x="146.4" y="793.3"/><use href="#ball" x="150.6" y="797.7"/><use href="#ball" x="154.7" y="802.1"/><use href="#ball" x="158.9" y="798.2"/><use href="#ball" x="163.0" y="815.3"/><use href="#ball" x="167.2" y="822.4"/><use href="#ball" x="171.4" y="827.5"/><use href="#ball" x="175.5" y="835.8"/><use href="#ball" x="179.7" y="830.0"/><use href="#ball" x="183.8" y="827.5"/><use href="#ball" x="188.0" y="823.4"/><use href="#ball" x="192.2" y="817.7"/><use href="#ball" x="196.3" y="822.6"/><use href="#ball" x="200.5" y="812.8"/><use href="#ball" x="204.6" y="799.9"/><use href="#ball" x="208.8" y="801.6"/><use href="#ball" x="213.0" y="798.2"/><use href="#ball" x="217.1" y="798.2"/><use href="#ball" x="221.3" y="808.7"/><use href="#ball" x="225.4" y="804.3"/><use href="#ball" x="229.6" y="808.7"/><use href="#ball" x="233.8" y="803.0"/><use href="#ball" x="237.9" y="789.1"/><use href="#ball" x="242.1" y="786.9"/><use href="#ball" x="246.2" y="794.7"/><use href="#ball" x="250.4" y="799.1"/><use href="#ball" x="254.6" y="808.7"/><use href="#ball" x="258.7" y="812.1"/><use href="#ball" x="262.9" y="817.7"/><use href="#ball" x="267.0" y="819.9"/><use href="#ball" x="271.2" y="799.9"/><use href="#ball" x="275.4" y="798.6"/><use href="#ball" x="279.5" y="799.1"/><use href="#ball" x="283.7" y="798.6"/><use href="#ball" x="287.8" y="795.7"/><use href="#ball" x="292.0" y="796.9"/><use href="#ball" x="296.2" y="800.6"/><use href="#ball" x="300.3" y="853.2"/><use href="#ball" x="304.5" y="825.1"/><use href="#ball" x="308.6" y="806.0"/><use href="#ball" x="312.8" y="768.3"/><use href="#ball" x="317.0" y="765.6"/><use href="#ball" x="321.1" y="734.5"/><use href="#ball" x="325.3" y="691.2"/><use href="#ball" x="329.4" y="889.2"/><use href="#ball" x="333.6" y="888.2"/><use href="#ball" x="337.8" y="896.1"/><use href="#ball" x="341.9" y="877.0"/><use href="#ball" x="346.1" y="873.5"/><use href="#ball" x="350.2" y="870.1"/><use href="#ball" x="354.4" y="870.1"/><use href="#ball" x="358.6" y="857.9"/><use href="#ball" x="362.7" y="852.0"/><use href="#ball" x="366.9" y="836.3"/><use href="#ball" x="371.0" y="832.4"/><use href="#ball" x="375.2" y="824.1"/><use href="#ball" x="379.4" y="816.3"/><use href="#ball" x="383.5" y="809.4"/><use href="#ball" x="387.7" y="810.4"/><use href="#ball" x="391.8" y="807.9"/><use href="#ball" x="396.0" y="814.1"/><use href="#ball" x="400.2" y="820.2"/><use href="#ball" x="404.3" y="823.9"/><use href="#ball" x="408.5" y="823.9"/><use href="#ball" x="412.6" y="827.5"/><use href="#ball" x="416.8" y="830.0"/><use href="#ball" x="421.0" y="834.9"/><use href="#ball" x="425.1" y="837.3"/><use href="#ball" x="429.3" y="837.3"/><use href="#ball" x="433.4" y="861.5"/><use href="#ball" x="437.6" y="771.5"/><use href="#ball" x="441.8" y="764.1"/><use href="#ball" x="445.9" y="781.0"/><use href="#ball" x="450.1" y="771.5"/><use href="#ball" x="454.2" y="755.8"/><use href="#ball" x="458.4" y="725.7"/><use href="#ball" x="462.6" y="724.7"/><use href="#ball" x="466.7" y="719.8"/><use href="#ball" x="470.9" y="695.6"/><use href="#ball" x="475.0" y="710.0"/><use href="#ball" x="479.2" y="702.7"/><use href="#ball" x="483.4" y="728.2"/><use href="#ball" x="487.5" y="731.8"/><use href="#ball" x="491.7" y="750.9"/><use href="#ball" x="495.8" y="799.1"/><use href="#ball" x="500.0" y="821.2"/><use href="#ball" x="504.2" y="837.1"/><use href="#ball" x="508.3" y="847.1"/><use href="#ball" x="512.5" y="847.1"/><use href="#ball" x="516.6" y="857.4"/><use href="#ball" x="520.8" y="869.1"/><use href="#ball" x="525.0" y="879.9"/><use href="#ball" x="529.1" y="865.2"/><use href="#ball" x="533.3" y="877.5"/><use href="#ball" x="537.4" y="876.5"/><use href="#ball" x="541.6" y="876.5"/><use href="#ball" x="545.8" y="832.4"/><use href="#ball" x="549.9" y="847.1"/><use href="#ball" x="554.1" y="796.4"/><use href="#ball" x="558.2" y="792.0"/><use href="#ball" x="562.4" y="805.5"/><use href="#ball" x="566.6" y="805.5"/><use href="#ball" x="570.7" y="830.2"/><use href="#ball" x="574.9" y="825.8"/><use href="#ball" x="579.0" y="819.0"/><use href="#ball" x="583.2" y="812.4"/><use href="#ball" x="587.4" y="797.7"/><use href="#ball" x="591.5" y="797.7"/><use href="#ball" x="595.7" y="780.8"/><use href="#ball" x="599.8" y="780.5"/><use href="#ball" x="604.0" y="774.4"/><use href="#ball" x="608.2" y="788.1"/><use href="#ball" x="612.3" y="774.4"/><use href="#ball" x="616.5" y="792.8"/><use href="#ball" x="620.6" y="788.1"/><use href="#ball" x="624.8" y="780.5"/><use href="#ball" x="629.0" y="775.9"/><use href="#ball" x="633.1" y="782.7"/><use href="#ball" x="637.3" y="783.5"/><use href="#ball" x="641.4" y="752.9"/><use href="#ball" x="645.6" y="768.3"/><use href="#ball" x="649.8" y="783.5"/><use href="#ball" x="653.9" y="783.5"/><use href="#ball" x="658.1" y="792.8"/><use href="#ball" x="662.2" y="829.5"/><use href="#ball" x="666.4" y="821.9"/><use href="#ball" x="670.6" y="817.2"/><use href="#ball" x="674.7" y="834.1"/><use href="#ball" x="678.9" y="828.0"/><use href="#ball" x="683.0" y="834.1"/><use href="#ball" x="687.2" y="849.6"/><use href="#ball" x="691.4" y="863.3"/><use href="#ball" x="695.5" y="889.2"/><use href="#ball" x="699.7" y="814.1"/><use href="#ball" x="703.8" y="823.4"/><use href="#ball" x="708.0" y="846.9"/><use href="#ball" x="712.2" y="854.7"/><use href="#ball" x="716.3" y="868.9"/><use href="#ball" x="720.5" y="872.1"/><use href="#ball" x="724.6" y="903.6"/><use href="#ball" x="728.8" y="905.4"/><use href="#ball" x="733.0" y="826.3"/><use href="#ball" x="737.1" y="794.7"/><use href="#ball" x="741.3" y="812.1"/><use href="#ball" x="745.4" y="813.6"/><use href="#ball" x="749.6" y="807.2"/><use href="#ball" x="753.8" y="791.5"/><use href="#ball" x="757.9" y="801.1"/><use href="#ball" x="762.1" y="801.1"/><use href="#ball" x="766.2" y="795.7"/><use href="#ball" x="770.4" y="791.5"/><use href="#ball" x="774.6" y="764.6"/><use href="#ball" x="778.7" y="775.6"/><use href="#ball" x="782.9" y="771.2"/><use href="#ball" x="787.0" y="766.3"/><use href="#ball" x="791.2" y="751.9"/><use href="#ball" x="795.4" y="767.1"/><use href="#ball" x="799.5" y="815.3"/><use href="#ball" x="803.7" y="797.9"/><use href="#ball" x="807.8" y="793.3"/><use href="#ball" x="812.0" y="814.6"/><use href="#ball" x="816.2" y="790.8"/><use href="#ball" x="820.3" y="787.6"/><use href="#ball" x="824.5" y="784.9"/><use href="#ball" x="828.6" y="811.9"/><use href="#ball" x="832.8" y="873.0"/><use href="#ball" x="837.0" y="889.2"/><use href="#ball" x="841.1" y="919.6"/><use href="#ball" x="845.3" y="925.4"/><use href="#ball" x="849.4" y="902.7"/><use href="#ball" x="853.6" y="883.8"/><use href="#ball" x="857.8" y="847.6"/><use href="#ball" x="861.9" y="867.7"/><use href="#ball" x="866.1" y="866.4"/><use href="#ball" x="870.2" y="847.6"/><use href="#ball" x="874.4" y="826.1"/><use href="#ball" x="878.6" y="840.3"/><use href="#ball" x="882.7" y="828.7"/><use href="#ball" x="886.9" y="824.1"/><use href="#ball" x="891.0" y="799.9"/><use href="#ball" x="895.2" y="830.7"/><use href="#ball" x="899.4" y="856.9"/><use href="#ball" x="903.5" y="890.7"/><use href="#ball" x="907.7" y="894.6"/><use href="#ball" x="911.8" y="900.9"/><use href="#ball" x="916.0" y="907.3"/>
<path d="M88.2 803.0V816.8M92.3 803.0V817.2M96.5 803.0V817.7M100.6 803.0V823.4M104.8 803.0V824.6M109.0 803.0V832.4M113.1 803.0V837.3M117.3 803.0V841.5M121.4 803.0V842.5M125.6 803.0V853.7M129.8 803.0V858.4M133.9 803.0V862.3M138.1 803.0V859.3M142.2 803.0V854.4M146.4 803.0V843.7M150.6 803.0V843.7M154.7 803.0V843.7M158.9 803.0V841.5M163.0 803.0V852.0M167.2 803.0V858.9M171.4 803.0V870.6M175.5 803.0V871.6M179.7 803.0V871.8M183.8 803.0V860.6M188.0 803.0V858.4M192.2 803.0V855.9M196.3 803.0V862.8M200.5 803.0V853.7M204.6 803.0V847.1M208.8 803.0V854.9M213.0 803.0V853.7M217.1 803.0V848.1M221.3 803.0V860.6M225.4 803.0V849.3M229.6 803.0V844.9M233.8 803.0V842.5M237.9 803.0V817.7M242.1 803.0V814.3M246.2 803.0V822.4M250.4 803.0V820.2M254.6 803.0V828.0M258.7 803.0V829.0M262.9 803.0V827.5M267.0 803.0V824.6M271.2 803.0V815.5M275.4 803.0V811.1M279.5 803.0V813.3M283.7 803.0V812.1M287.8 803.0V807.7M292.0 803.0V804.3M296.2 803.0V825.1M300.3 803.0V825.1M304.5 803.0V807.2M308.6 803.0V798.2M312.8 803.0V775.6M317.0 803.0V790.3M321.1 803.0V791.3M325.3 803.0V781.3M329.4 803.0V794.7M333.6 803.0V802.6M337.8 803.0V845.4M341.9 803.0V842.0M346.1 803.0V813.8M350.2 803.0V813.8M354.4 803.0V794.7M358.6 803.0V765.6M362.7 803.0V757.8M366.9 803.0V770.0M371.0 803.0V791.3M375.2 803.0V766.6M379.4 803.0V792.5M383.5 803.0V785.2M387.7 803.0V801.6M391.8 803.0V797.9M396.0 803.0V806.2M400.2 803.0V825.6M404.3 803.0V829.2M408.5 803.0V824.3M412.6 803.0V821.9M416.8 803.0V816.0M421.0 803.0V822.6M425.1 803.0V837.6M429.3 803.0V849.6M433.4 803.0V861.5M437.6 803.0V900.2M441.8 803.0V908.5M445.9 803.0V924.2M450.1 803.0V924.7M454.2 803.0V908.5M458.4 803.0V892.9M462.6 803.0V919.3M466.7 803.0V919.3M470.9 803.0V887.0M475.0 803.0V896.5M479.2 803.0V867.7M483.4 803.0V877.2M487.5 803.0V867.7M491.7 803.0V867.7M495.8 803.0V891.6M500.0 803.0V886.5M504.2 803.0V875.3M508.3 803.0V864.2M512.5 803.0V844.9M516.6 803.0V866.2M520.8 803.0V869.6M525.0 803.0V875.3M529.1 803.0V871.6M533.3 803.0V854.9M537.4 803.0V852.7M541.6 803.0V850.5M545.8 803.0V797.7M549.9 803.0V808.9M554.1 803.0V763.4M558.2 803.0V745.8M562.4 803.0V749.9M566.6 803.0V750.4M570.7 803.0V762.7M574.9 803.0V749.2M579.0 803.0V732.3M583.2 803.0V726.7M587.4 803.0V706.9M591.5 803.0V709.3M595.7 803.0V689.5M599.8 803.0V696.3M604.0 803.0V683.1M608.2 803.0V688.5M612.3 803.0V672.4M616.5 803.0V691.4M620.6 803.0V682.4M624.8 803.0V676.3M629.0 803.0V662.3M633.1 803.0V676.3M637.3 803.0V670.2M641.4 803.0V634.2M645.6 803.0V644.0M649.8 803.0V638.6M653.9 803.0V658.6M658.1 803.0V670.9M662.2 803.0V692.9M666.4 803.0V679.2M670.6 803.0V667.0M674.7 803.0V673.3M678.9 803.0V643.2M683.0 803.0V621.9M687.2 803.0V599.9M691.4 803.0V585.7M695.5 803.0V585.2M699.7 803.0V601.1M703.8 803.0V586.9M708.0 803.0V625.6M712.2 803.0V635.2M716.3 803.0V629.5M720.5 803.0V643.0M724.6 803.0V617.0M728.8 803.0V595.5M733.0 803.0V597.2M737.1 803.0V597.9M741.3 803.0V628.1M745.4 803.0V676.3M749.6 803.0V699.0M753.8 803.0V718.1M757.9 803.0V727.4M762.1 803.0V754.3M766.2 803.0V778.1M770.4 803.0V786.9M774.6 803.0V772.5M778.7 803.0V791.5M782.9 803.0V798.6M787.0 803.0V785.2M791.2 803.0V775.6M795.4 803.0V782.0M799.5 803.0V824.6M803.7 803.0V796.2M807.8 803.0V789.1M812.0 803.0V816.0M816.2 803.0V790.3M820.3 803.0V779.6M824.5 803.0V739.4M828.6 803.0V723.8M832.8 803.0V742.6M837.0 803.0V724.5M841.1 803.0V719.1M845.3 803.0V701.0M849.4 803.0V689.0M853.6 803.0V696.3M857.8 803.0V676.8M861.9 803.0V709.1M866.1 803.0V731.3M870.2 803.0V731.3M874.4 803.0V727.9M878.6 803.0V761.0M882.7 803.0V763.6M886.9 803.0V791.1M891.0 803.0V788.4M895.2 803.0V830.7M899.4 803.0V863.0M903.5 803.0V901.9M907.7 803.0V908.8M911.8 803.0V918.1M916.0 803.0V937.7" stroke="#ff0000" stroke-width="2" fill="none"/>
<use href="#ast" x="88.2" y="816.8"/><use href="#ast" x="92.3" y="817.2"/><use href="#ast" x="96.5" y="817.7"/><use href="#ast" x="100.6" y="823.4"/><use href="#ast" x="104.8" y="824.6"/><use href="#ast" x="109.0" y="832.4"/><use href="#ast" x="113.1" y="837.3"/><use href="#ast" x="117.3" y="841.5"/><use href="#ast" x="121.4" y="842.5"/><use href="#ast" x="125.6" y="853.7"/><use href="#ast" x="129.8" y="858.4"/><use href="#ast" x="133.9" y="862.3"/><use href="#ast" x="138.1" y="859.3"/><use href="#ast" x="142.2" y="854.4"/><use href="#ast" x="146.4" y="843.7"/><use href="#ast" x="150.6" y="843.7"/><use href="#ast" x="154.7" y="843.7"/><use href="#ast" x="158.9" y="841.5"/><use href="#ast" x="163.0" y="852.0"/><use href="#ast" x="167.2" y="858.9"/><use href="#ast" x="171.4" y="870.6"/><use href="#ast" x="175.5" y="871.6"/><use href="#ast" x="179.7" y="871.8"/><use href="#ast" x="183.8" y="860.6"/><use href="#ast" x="188.0" y="858.4"/><use href="#ast" x="192.2" y="855.9"/><use href="#ast" x="196.3" y="862.8"/><use href="#ast" x="200.5" y="853.7"/><use href="#ast" x="204.6" y="847.1"/><use href="#ast" x="208.8" y="854.9"/><use href="#ast" x="213.0" y="853.7"/><use href="#ast" x="217.1" y="848.1"/><use href="#ast" x="221.3" y="860.6"/><use href="#ast" x="225.4" y="849.3"/><use href="#ast" x="229.6" y="844.9"/><use href="#ast" x="233.8" y="842.5"/><use href="#ast" x="237.9" y="817.7"/><use href="#ast" x="242.1" y="814.3"/><use href="#ast" x="246.2" y="822.4"/><use href="#ast" x="250.4" y="820.2"/><use href="#ast" x="254.6" y="828.0"/><use href="#ast" x="258.7" y="829.0"/><use href="#ast" x="262.9" y="827.5"/><use href="#ast" x="267.0" y="824.6"/><use href="#ast" x="271.2" y="815.5"/><use href="#ast" x="275.4" y="811.1"/><use href="#ast" x="279.5" y="813.3"/><use href="#ast" x="283.7" y="812.1"/><use href="#ast" x="287.8" y="807.7"/><use href="#ast" x="292.0" y="804.3"/><use href="#ast" x="296.2" y="825.1"/><use href="#ast" x="300.3" y="825.1"/><use href="#ast" x="304.5" y="807.2"/><use href="#ast" x="308.6" y="798.2"/><use href="#ast" x="312.8" y="775.6"/><use href="#ast" x="317.0" y="790.3"/><use href="#ast" x="321.1" y="791.3"/><use href="#ast" x="325.3" y="781.3"/><use href="#ast" x="329.4" y="794.7"/><use href="#ast" x="333.6" y="802.6"/><use href="#ast" x="337.8" y="845.4"/><use href="#ast" x="341.9" y="842.0"/><use href="#ast" x="346.1" y="813.8"/><use href="#ast" x="350.2" y="813.8"/><use href="#ast" x="354.4" y="794.7"/><use href="#ast" x="358.6" y="765.6"/><use href="#ast" x="362.7" y="757.8"/><use href="#ast" x="366.9" y="770.0"/><use href="#ast" x="371.0" y="791.3"/><use href="#ast" x="375.2" y="766.6"/><use href="#ast" x="379.4" y="792.5"/><use href="#ast" x="383.5" y="785.2"/><use href="#ast" x="387.7" y="801.6"/><use href="#ast" x="391.8" y="797.9"/><use href="#ast" x="396.0" y="806.2"/><use href="#ast" x="400.2" y="825.6"/><use href="#ast" x="404.3" y="829.2"/><use href="#ast" x="408.5" y="824.3"/><use href="#ast" x="412.6" y="821.9"/><use href="#ast" x="416.8" y="816.0"/><use href="#ast" x="421.0" y="822.6"/><use href="#ast" x="425.1" y="837.6"/><use href="#ast" x="429.3" y="849.6"/><use href="#ast" x="433.4" y="861.5"/><use href="#ast" x="437.6" y="900.2"/><use href="#ast" x="441.8" y="908.5"/><use href="#ast" x="445.9" y="924.2"/><use href="#ast" x="450.1" y="924.7"/><use href="#ast" x="454.2" y="908.5"/><use href="#ast" x="458.4" y="892.9"/><use href="#ast" x="462.6" y="919.3"/><use href="#ast" x="466.7" y="919.3"/><use href="#ast" x="470.9" y="887.0"/><use href="#ast" x="475.0" y="896.5"/><use href="#ast" x="479.2" y="867.7"/><use href="#ast" x="483.4" y="877.2"/><use href="#ast" x="487.5" y="867.7"/><use href="#ast" x="491.7" y="867.7"/><use href="#ast" x="495.8" y="891.6"/><use href="#ast" x="500.0" y="886.5"/><use href="#ast" x="504.2" y="875.3"/><use href="#ast" x="508.3" y="864.2"/><use href="#ast" x="512.5" y="844.9"/><use href="#ast" x="516.6" y="866.2"/><use href="#ast" x="520.8" y="869.6"/><use href="#ast" x="525.0" y="875.3"/><use href="#ast" x="529.1" y="871.6"/><use href="#ast" x="533.3" y="854.9"/><use href="#ast" x="537.4" y="852.7"/><use href="#ast" x="541.6" y="850.5"/><use href="#ast" x="545.8" y="797.7"/><use href="#ast" x="549.9" y="808.9"/><use href="#ast" x="554.1" y="763.4"/><use href="#ast" x="558.2" y="745.8"/><use href="#ast" x="562.4" y="749.9"/><use href="#ast" x="566.6" y="750.4"/><use href="#ast" x="570.7" y="762.7"/><use href="#ast" x="574.9" y="749.2"/><use href="#ast" x="579.0" y="732.3"/><use href="#ast" x="583.2" y="726.7"/><use href="#ast" x="587.4" y="706.9"/><use href="#ast" x="591.5" y="709.3"/><use href="#ast" x="595.7" y="689.5"/><use href="#ast" x="599.8" y="696.3"/><use href="#ast" x="604.0" y="683.1"/><use href="#ast" x="608.2" y="688.5"/><use href="#ast" x="612.3" y="672.4"/><use href="#ast" x="616.5" y="691.4"/><use href="#ast" x="620.6" y="682.4"/><use href="#ast" x="624.8" y="676.3"/><use href="#ast" x="629.0" y="662.3"/><use href="#ast" x="633.1" y="676.3"/><use href="#ast" x="637.3" y="670.2"/><use href="#ast" x="641.4" y="634.2"/><use href="#ast" x="645.6" y="644.0"/><use href="#ast" x="649.8" y="638.6"/><use href="#ast" x="653.9" y="658.6"/><use href="#ast" x="658.1" y="670.9"/><use href="#ast" x="662.2" y="692.9"/><use href="#ast" x="666.4" y="679.2"/><use href="#ast" x="670.6" y="667.0"/><use href="#ast" x="674.7" y="673.3"/><use href="#ast" x="678.9" y="643.2"/><use href="#ast" x="683.0" y="621.9"/><use href="#ast" x="687.2" y="599.9"/><use href="#ast" x="691.4" y="585.7"/><use href="#ast" x="695.5" y="585.2"/><use href="#ast" x="699.7" y="601.1"/><use href="#ast" x="703.8" y="586.9"/><use href="#ast" x="708.0" y="625.6"/><use href="#ast" x="712.2" y="635.2"/><use href="#ast" x="716.3" y="629.5"/><use href="#ast" x="720.5" y="643.0"/><use href="#ast" x="724.6" y="617.0"/><use href="#ast" x="728.8" y="595.5"/><use href="#ast" x="733.0" y="597.2"/><use href="#ast" x="737.1" y="597.9"/><use href="#ast" x="741.3" y="628.1"/><use href="#ast" x="745.4" y="676.3"/><use href="#ast" x="749.6" y="699.0"/><use href="#ast" x="753.8" y="718.1"/><use href="#ast" x="757.9" y="727.4"/><use href="#ast" x="762.1" y="754.3"/><use href="#ast" x="766.2" y="778.1"/><use href="#ast" x="770.4" y="786.9"/><use href="#ast" x="774.6" y="772.5"/><use href="#ast" x="778.7" y="791.5"/><use href="#ast" x="782.9" y="798.6"/><use href="#ast" x="787.0" y="785.2"/><use href="#ast" x="791.2" y="775.6"/><use href="#ast" x="795.4" y="782.0"/><use href="#ast" x="799.5" y="824.6"/><use href="#ast" x="803.7" y="796.2"/><use href="#ast" x="807.8" y="789.1"/><use href="#ast" x="812.0" y="816.0"/><use href="#ast" x="816.2" y="790.3"/><use href="#ast" x="820.3" y="779.6"/><use href="#ast" x="824.5" y="739.4"/><use href="#ast" x="828.6" y="723.8"/><use href="#ast" x="832.8" y="742.6"/><use href="#ast" x="837.0" y="724.5"/><use href="#ast" x="841.1" y="719.1"/><use href="#ast" x="845.3" y="701.0"/><use href="#ast" x="849.4" y="689.0"/><use href="#ast" x="853.6" y="696.3"/><use href="#ast" x="857.8" y="676.8"/><use href="#ast" x="861.9" y="709.1"/><use href="#ast" x="866.1" y="731.3"/><use href="#ast" x="870.2" y="731.3"/><use href="#ast" x="874.4" y="727.9"/><use href="#ast" x="878.6" y="761.0"/><use href="#ast" x="882.7" y="763.6"/><use href="#ast" x="886.9" y="791.1"/><use href="#ast" x="891.0" y="788.4"/><use href="#ast" x="895.2" y="830.7"/><use href="#ast" x="899.4" y="863.0"/><use href="#ast" x="903.5" y="901.9"/><use href="#ast" x="907.7" y="908.8"/><use href="#ast" x="911.8" y="918.1"/><use href="#ast" x="916.0" y="937.7"/>
<text x="64.6" y="1098.7" font-size="28.6" text-anchor="end">1.0</text>
<text x="64.6" y="1221.3" font-size="28.6" text-anchor="end">0.5</text>
<text x="64.6" y="1344.0" font-size="28.6" text-anchor="end">0.0</text>
<text x="64.6" y="1466.6" font-size="28.6" text-anchor="end">-0.5</text>
<text x="64.6" y="1589.2" font-size="28.6" text-anchor="end">-1.0</text>
<text transform="translate(21 1336.0) rotate(-90)" font-size="30" text-anchor="middle">Error</text>
<text x="90.5" y="1375.2" font-size="28" text-anchor="middle">0</text>
<text x="298.5" y="1375.2" font-size="28" text-anchor="middle">50</text>
<text x="506.5" y="1375.2" font-size="28" text-anchor="middle">100</text>
<text x="714.5" y="1375.2" font-size="28" text-anchor="middle">150</text>
<text x="922.5" y="1375.2" font-size="28" text-anchor="middle">200</text>
<circle cx="153.2" cy="1114.4" r="11" fill="url(#gb)"/>
<text x="194.6" y="1124.1" font-size="30" textLength="245.5" lengthAdjust="spacingAndGlyphs">PCA-BOA-LSSVM</text>
<path d="M487 1114.4H511M499 1102.4V1126.4M487.5 1102.9L510.5 1125.9M487.5 1125.9L510.5 1102.9" stroke="#ff0000" stroke-width="1.9" fill="none"/>
<text x="541" y="1124.1" font-size="30" textLength="175" lengthAdjust="spacingAndGlyphs">BOA-LSSVM</text>
<text x="152.5" y="1213.7" font-size="30" textLength="114.5" lengthAdjust="spacingAndGlyphs">Train set</text>
<text x="319.8" y="1213.7" font-size="30" textLength="93.8" lengthAdjust="spacingAndGlyphs">Test set</text>
<text x="446.4" y="1569.6" font-size="37" textLength="181.5" lengthAdjust="spacingAndGlyphs">t=40 D=250</text>
<line x1="292.5" y1="1157.4" x2="292.5" y2="1559.9" stroke="#000" stroke-width="3" stroke-dasharray="12.4 12.5"/>
<line x1="84.0" y1="1089.2" x2="84.0" y2="1582.7" stroke="#000" stroke-width="3.6"/>
<path d="M72.5 1090.7H84.0M72.5 1213.3H84.0M72.5 1458.6H84.0M72.5 1581.2H84.0M78 1152.0H84.0M78 1274.6H84.0M78 1397.3H84.0M78 1519.9H84.0M188.0 1336.0V1342.2M396.0 1336.0V1342.2M604.0 1336.0V1342.2M812.0 1336.0V1342.2M292.0 1336.0V1346.0M500.0 1336.0V1346.0M708.0 1336.0V1346.0M916.0 1336.0V1346.0" stroke="#000" stroke-width="3" fill="none"/>
<line x1="72.5" y1="1336.0" x2="921" y2="1336.0" stroke="#000" stroke-width="3.7"/>
<path d="M100.6 1369.3V1372.7M104.8 1367.8V1377.6M109.0 1375.9V1380.1M113.1 1380.1V1385.0M117.3 1373.7V1377.6M150.6 1336.0V1334.5M154.7 1336.0V1332.0M158.9 1336.0V1328.8M163.0 1336.0V1331.0M167.2 1336.0V1335.0M175.5 1336.0V1336.0M179.7 1336.0V1335.5M188.0 1336.0V1335.0M192.2 1336.0V1333.3M196.3 1336.0V1333.3M200.5 1336.0V1334.5M204.6 1336.0V1328.8M208.8 1336.0V1329.8M213.0 1336.0V1323.7M217.1 1331.0V1315.3M221.3 1333.3V1317.6M225.4 1334.5V1317.6M229.6 1336.0V1319.8M233.8 1336.0V1321.5M237.9 1333.3V1314.6M242.1 1331.0V1308.5M246.2 1336.0V1324.2M250.4 1336.0V1332.0M254.6 1336.0V1332.0M258.7 1336.0V1329.8M262.9 1336.0V1329.8M267.0 1336.0V1326.4M271.2 1336.0V1333.3M279.5 1336.0V1332.0M283.7 1336.0V1332.0M287.8 1336.0V1329.8M292.0 1336.0V1331.0M396.0 1336.0V1333.0M400.2 1336.0V1322.5M404.3 1336.0V1322.5M408.5 1336.0V1325.6M412.6 1336.0V1291.3M416.8 1336.0V1286.4M421.0 1336.0V1271.7M425.1 1336.0V1284.4M429.3 1336.0V1282.7M433.4 1336.0V1239.1M437.6 1336.0V1245.9M441.8 1336.0V1250.1M445.9 1336.0V1268.5M450.1 1336.0V1297.4M454.2 1336.0V1327.4M483.4 1400.5V1407.8M487.5 1375.9V1413.9M491.7 1363.7V1416.4M495.8 1351.4V1422.5M500.0 1336.0V1420.3M504.2 1341.3V1442.6M508.3 1341.3V1447.5M512.5 1336.0V1450.0M516.6 1341.3V1458.1M520.8 1336.0V1477.0M525.0 1336.0V1455.9M529.1 1336.0V1447.5M533.3 1336.0V1438.2M537.4 1336.0V1414.4M541.6 1336.0V1433.3M545.8 1336.0V1420.3M549.9 1336.0V1429.9M554.1 1336.0V1427.4M558.2 1336.0V1416.9M562.4 1341.3V1424.0M566.6 1340.4V1441.7M570.7 1336.0V1420.3M574.9 1336.0V1428.7M579.0 1347.2V1374.5M583.2 1337.9V1367.3M587.4 1330.3V1219.0M591.5 1336.0V1259.7M595.7 1336.0V1245.9M599.8 1336.0V1241.8M604.0 1336.0V1271.9M608.2 1336.0V1258.5M612.3 1336.0V1256.7M616.5 1336.0V1229.0M620.6 1321.0V1237.9M624.8 1324.4V1277.3M629.0 1336.0V1274.4M633.1 1336.0V1283.2M637.3 1336.0V1265.3M641.4 1336.0V1235.4M645.6 1336.0V1233.7M649.8 1327.4V1202.3M653.9 1296.2V1244.7M658.1 1315.1V1257.7M662.2 1316.3V1273.2M666.4 1316.3V1266.5M670.6 1303.8V1296.7M674.7 1323.2V1311.4M683.0 1336.0V1330.3M687.2 1336.0V1380.1M691.4 1371.3V1413.9M695.5 1398.7V1440.2M699.7 1423.7V1436.5M703.8 1416.9V1430.9M708.0 1415.7V1425.0M716.3 1377.2V1389.9M720.5 1377.2V1384.0M724.6 1373.5V1377.2M728.8 1362.9V1370.3M733.0 1337.4V1365.4M737.1 1343.3V1362.9M741.3 1336.0V1344.3M745.4 1336.0V1340.9M762.1 1336.0V1347.7M766.2 1336.0V1340.9M770.4 1336.0V1339.6M774.6 1336.0V1359.5M778.7 1336.0V1382.8M782.9 1336.0V1375.9M787.0 1336.0V1384.0M791.2 1336.0V1373.0M795.4 1336.0V1383.5M799.5 1336.0V1401.4M803.7 1355.1V1424.0M807.8 1368.3V1443.9M812.0 1386.2V1454.7M816.2 1351.6V1417.4M820.3 1372.2V1430.6M824.5 1361.0V1408.1M828.6 1358.5V1403.4M832.8 1374.5V1416.1M837.0 1371.8V1408.1M841.1 1391.6V1424.7M845.3 1395.5V1436.7M849.4 1413.4V1457.8M853.6 1399.5V1438.0M857.8 1394.3V1429.4M861.9 1395.5V1439.4M866.1 1394.3V1429.4M870.2 1378.4V1400.9M874.4 1410.3V1423.5M878.6 1408.8V1430.1M882.7 1408.8V1431.4M886.9 1422.8V1445.3M891.0 1435.3V1469.9M895.2 1436.5V1471.8M899.4 1458.6V1473.8" stroke="#008a00" stroke-width="1.9" fill="none"/>
<use href="#ball" x="88.2" y="1371.5"/><use href="#ball" x="92.3" y="1375.2"/><use href="#ball" x="96.5" y="1374.0"/><use href="#ball" x="100.6" y="1372.7"/><use href="#ball" x="104.8" y="1377.6"/><use href="#ball" x="109.0" y="1380.1"/><use href="#ball" x="113.1" y="1385.0"/><use href="#ball" x="117.3" y="1377.6"/><use href="#ball" x="121.4" y="1371.5"/><use href="#ball" x="125.6" y="1370.3"/><use href="#ball" x="129.8" y="1367.8"/><use href="#ball" x="133.9" y="1363.7"/><use href="#ball" x="138.1" y="1364.6"/><use href="#ball" x="142.2" y="1360.5"/><use href="#ball" x="146.4" y="1358.0"/><use href="#ball" x="150.6" y="1334.5"/><use href="#ball" x="154.7" y="1332.0"/><use href="#ball" x="158.9" y="1328.8"/><use href="#ball" x="163.0" y="1331.0"/><use href="#ball" x="167.2" y="1335.0"/><use href="#ball" x="171.4" y="1342.3"/><use href="#ball" x="175.5" y="1336.0"/><use href="#ball" x="179.7" y="1335.5"/><use href="#ball" x="183.8" y="1346.7"/><use href="#ball" x="188.0" y="1335.0"/><use href="#ball" x="192.2" y="1333.3"/><use href="#ball" x="196.3" y="1333.3"/><use href="#ball" x="200.5" y="1334.5"/><use href="#ball" x="204.6" y="1328.8"/><use href="#ball" x="208.8" y="1329.8"/><use href="#ball" x="213.0" y="1323.7"/><use href="#ball" x="217.1" y="1315.3"/><use href="#ball" x="221.3" y="1317.6"/><use href="#ball" x="225.4" y="1317.6"/><use href="#ball" x="229.6" y="1319.8"/><use href="#ball" x="233.8" y="1321.5"/><use href="#ball" x="237.9" y="1314.6"/><use href="#ball" x="242.1" y="1308.5"/><use href="#ball" x="246.2" y="1324.2"/><use href="#ball" x="250.4" y="1332.0"/><use href="#ball" x="254.6" y="1332.0"/><use href="#ball" x="258.7" y="1329.8"/><use href="#ball" x="262.9" y="1329.8"/><use href="#ball" x="267.0" y="1326.4"/><use href="#ball" x="271.2" y="1333.3"/><use href="#ball" x="275.4" y="1348.0"/><use href="#ball" x="279.5" y="1332.0"/><use href="#ball" x="283.7" y="1332.0"/><use href="#ball" x="287.8" y="1329.8"/><use href="#ball" x="292.0" y="1331.0"/><use href="#ball" x="296.2" y="1446.8"/><use href="#ball" x="300.3" y="1439.9"/><use href="#ball" x="304.5" y="1415.2"/><use href="#ball" x="308.6" y="1433.3"/><use href="#ball" x="312.8" y="1420.8"/><use href="#ball" x="317.0" y="1426.4"/><use href="#ball" x="321.1" y="1428.7"/><use href="#ball" x="325.3" y="1418.6"/><use href="#ball" x="329.4" y="1441.2"/><use href="#ball" x="333.6" y="1419.8"/><use href="#ball" x="337.8" y="1426.4"/><use href="#ball" x="341.9" y="1428.7"/><use href="#ball" x="346.1" y="1371.5"/><use href="#ball" x="350.2" y="1365.9"/><use href="#ball" x="354.4" y="1378.1"/><use href="#ball" x="358.6" y="1399.7"/><use href="#ball" x="362.7" y="1388.2"/><use href="#ball" x="366.9" y="1380.3"/><use href="#ball" x="371.0" y="1380.3"/><use href="#ball" x="375.2" y="1383.8"/><use href="#ball" x="379.4" y="1360.2"/><use href="#ball" x="383.5" y="1369.1"/><use href="#ball" x="387.7" y="1360.5"/><use href="#ball" x="391.8" y="1345.8"/><use href="#ball" x="396.0" y="1333.0"/><use href="#ball" x="400.2" y="1322.5"/><use href="#ball" x="404.3" y="1322.5"/><use href="#ball" x="408.5" y="1325.6"/><use href="#ball" x="412.6" y="1291.3"/><use href="#ball" x="416.8" y="1286.4"/><use href="#ball" x="421.0" y="1271.7"/><use href="#ball" x="425.1" y="1284.4"/><use href="#ball" x="429.3" y="1282.7"/><use href="#ball" x="433.4" y="1239.1"/><use href="#ball" x="437.6" y="1245.9"/><use href="#ball" x="441.8" y="1250.1"/><use href="#ball" x="445.9" y="1268.5"/><use href="#ball" x="450.1" y="1297.4"/><use href="#ball" x="454.2" y="1327.4"/><use href="#ball" x="458.4" y="1367.3"/><use href="#ball" x="462.6" y="1373.5"/><use href="#ball" x="466.7" y="1387.0"/><use href="#ball" x="470.9" y="1382.5"/><use href="#ball" x="475.0" y="1405.4"/><use href="#ball" x="479.2" y="1377.2"/><use href="#ball" x="483.4" y="1407.8"/><use href="#ball" x="487.5" y="1413.9"/><use href="#ball" x="491.7" y="1416.4"/><use href="#ball" x="495.8" y="1422.5"/><use href="#ball" x="500.0" y="1420.3"/><use href="#ball" x="504.2" y="1442.6"/><use href="#ball" x="508.3" y="1447.5"/><use href="#ball" x="512.5" y="1450.0"/><use href="#ball" x="516.6" y="1458.1"/><use href="#ball" x="520.8" y="1477.0"/><use href="#ball" x="525.0" y="1455.9"/><use href="#ball" x="529.1" y="1447.5"/><use href="#ball" x="533.3" y="1438.2"/><use href="#ball" x="537.4" y="1414.4"/><use href="#ball" x="541.6" y="1433.3"/><use href="#ball" x="545.8" y="1420.3"/><use href="#ball" x="549.9" y="1429.9"/><use href="#ball" x="554.1" y="1427.4"/><use href="#ball" x="558.2" y="1416.9"/><use href="#ball" x="562.4" y="1424.0"/><use href="#ball" x="566.6" y="1441.7"/><use href="#ball" x="570.7" y="1420.3"/><use href="#ball" x="574.9" y="1428.7"/><use href="#ball" x="579.0" y="1374.5"/><use href="#ball" x="583.2" y="1367.3"/><use href="#ball" x="587.4" y="1219.0"/><use href="#ball" x="591.5" y="1259.7"/><use href="#ball" x="595.7" y="1245.9"/><use href="#ball" x="599.8" y="1241.8"/><use href="#ball" x="604.0" y="1271.9"/><use href="#ball" x="608.2" y="1258.5"/><use href="#ball" x="612.3" y="1256.7"/><use href="#ball" x="616.5" y="1229.0"/><use href="#ball" x="620.6" y="1237.9"/><use href="#ball" x="624.8" y="1277.3"/><use href="#ball" x="629.0" y="1274.4"/><use href="#ball" x="633.1" y="1283.2"/><use href="#ball" x="637.3" y="1265.3"/><use href="#ball" x="641.4" y="1235.4"/><use href="#ball" x="645.6" y="1233.7"/><use href="#ball" x="649.8" y="1202.3"/><use href="#ball" x="653.9" y="1244.7"/><use href="#ball" x="658.1" y="1257.7"/><use href="#ball" x="662.2" y="1273.2"/><use href="#ball" x="666.4" y="1266.5"/><use href="#ball" x="670.6" y="1296.7"/><use href="#ball" x="674.7" y="1311.4"/><use href="#ball" x="678.9" y="1329.1"/><use href="#ball" x="683.0" y="1330.3"/><use href="#ball" x="687.2" y="1380.1"/><use href="#ball" x="691.4" y="1413.9"/><use href="#ball" x="695.5" y="1440.2"/><use href="#ball" x="699.7" y="1436.5"/><use href="#ball" x="703.8" y="1430.9"/><use href="#ball" x="708.0" y="1425.0"/><use href="#ball" x="712.2" y="1392.4"/><use href="#ball" x="716.3" y="1389.9"/><use href="#ball" x="720.5" y="1384.0"/><use href="#ball" x="724.6" y="1377.2"/><use href="#ball" x="728.8" y="1370.3"/><use href="#ball" x="733.0" y="1365.4"/><use href="#ball" x="737.1" y="1362.9"/><use href="#ball" x="741.3" y="1344.3"/><use href="#ball" x="745.4" y="1340.9"/><use href="#ball" x="749.6" y="1323.7"/><use href="#ball" x="753.8" y="1316.3"/><use href="#ball" x="757.9" y="1313.9"/><use href="#ball" x="762.1" y="1347.7"/><use href="#ball" x="766.2" y="1340.9"/><use href="#ball" x="770.4" y="1339.6"/><use href="#ball" x="774.6" y="1359.5"/><use href="#ball" x="778.7" y="1382.8"/><use href="#ball" x="782.9" y="1375.9"/><use href="#ball" x="787.0" y="1384.0"/><use href="#ball" x="791.2" y="1373.0"/><use href="#ball" x="795.4" y="1383.5"/><use href="#ball" x="799.5" y="1401.4"/><use href="#ball" x="803.7" y="1424.0"/><use href="#ball" x="807.8" y="1443.9"/><use href="#ball" x="812.0" y="1454.7"/><use href="#ball" x="816.2" y="1417.4"/><use href="#ball" x="820.3" y="1430.6"/><use href="#ball" x="824.5" y="1408.1"/><use href="#ball" x="828.6" y="1403.4"/><use href="#ball" x="832.8" y="1416.1"/><use href="#ball" x="837.0" y="1408.1"/><use href="#ball" x="841.1" y="1424.7"/><use href="#ball" x="845.3" y="1436.7"/><use href="#ball" x="849.4" y="1457.8"/><use href="#ball" x="853.6" y="1438.0"/><use href="#ball" x="857.8" y="1429.4"/><use href="#ball" x="861.9" y="1439.4"/><use href="#ball" x="866.1" y="1429.4"/><use href="#ball" x="870.2" y="1400.9"/><use href="#ball" x="874.4" y="1423.5"/><use href="#ball" x="878.6" y="1430.1"/><use href="#ball" x="882.7" y="1431.4"/><use href="#ball" x="886.9" y="1445.3"/><use href="#ball" x="891.0" y="1469.9"/><use href="#ball" x="895.2" y="1471.8"/><use href="#ball" x="899.4" y="1473.8"/><use href="#ball" x="903.5" y="1451.2"/><use href="#ball" x="907.7" y="1431.4"/><use href="#ball" x="911.8" y="1429.4"/><use href="#ball" x="916.0" y="1424.7"/>
<path d="M88.2 1336.0V1380.1M92.3 1336.0V1383.8M96.5 1336.0V1383.8M100.6 1336.0V1369.3M104.8 1336.0V1367.8M109.0 1336.0V1375.9M113.1 1336.0V1380.1M117.3 1336.0V1373.7M121.4 1336.0V1371.5M125.6 1336.0V1378.1M129.8 1336.0V1382.5M133.9 1336.0V1380.1M138.1 1336.0V1390.6M142.2 1336.0V1378.1M146.4 1336.0V1373.7M150.6 1336.0V1373.7M154.7 1336.0V1348.0M158.9 1336.0V1346.7M163.0 1336.0V1351.2M167.2 1336.0V1364.6M171.4 1336.0V1373.7M175.5 1336.0V1375.9M179.7 1336.0V1377.2M183.8 1336.0V1381.6M188.0 1336.0V1372.7M192.2 1336.0V1369.3M196.3 1336.0V1368.1M200.5 1336.0V1363.7M204.6 1336.0V1358.0M208.8 1336.0V1350.2M213.0 1336.0V1343.3M217.1 1336.0V1331.0M221.3 1336.0V1333.3M225.4 1336.0V1334.5M229.6 1336.0V1340.1M233.8 1336.0V1341.1M237.9 1336.0V1333.3M242.1 1336.0V1331.0M246.2 1336.0V1352.4M250.4 1336.0V1361.5M254.6 1336.0V1360.2M258.7 1336.0V1358.0M262.9 1336.0V1345.5M267.0 1336.0V1343.3M271.2 1336.0V1355.8M275.4 1336.0V1355.8M279.5 1336.0V1346.7M283.7 1336.0V1345.5M287.8 1336.0V1344.5M292.0 1336.0V1337.7M296.2 1336.0V1529.9M300.3 1336.0V1508.6M304.5 1336.0V1527.7M308.6 1336.0V1521.1M312.8 1336.0V1508.6M317.0 1336.0V1510.8M321.1 1336.0V1509.8M325.3 1336.0V1522.1M329.4 1336.0V1532.2M333.6 1336.0V1519.9M337.8 1336.0V1515.5M341.9 1336.0V1515.5M346.1 1336.0V1507.6M350.2 1336.0V1453.4M354.4 1336.0V1443.4M358.6 1336.0V1443.4M362.7 1336.0V1445.6M366.9 1336.0V1468.1M371.0 1336.0V1460.3M375.2 1336.0V1453.4M379.4 1336.0V1450.2M383.5 1336.0V1439.9M387.7 1336.0V1444.6M391.8 1336.0V1432.1M396.0 1336.0V1441.4M400.2 1336.0V1434.0M404.3 1336.0V1446.3M408.5 1336.0V1434.0M412.6 1336.0V1454.4M416.8 1336.0V1447.0M421.0 1336.0V1445.8M425.1 1336.0V1432.3M429.3 1336.0V1448.3M433.4 1336.0V1448.3M437.6 1336.0V1418.8M441.8 1336.0V1433.6M445.9 1336.0V1433.6M450.1 1336.0V1449.5M454.2 1336.0V1458.1M458.4 1336.0V1485.1M462.6 1336.0V1474.0M466.7 1336.0V1458.1M470.9 1336.0V1460.5M475.0 1336.0V1442.1M479.2 1336.0V1423.7M483.4 1336.0V1400.5M487.5 1336.0V1375.9M491.7 1336.0V1363.7M495.8 1336.0V1351.4M500.0 1336.0V1329.6M504.2 1336.0V1341.3M508.3 1336.0V1341.3M512.5 1336.0V1335.5M516.6 1336.0V1341.3M520.8 1336.0V1323.7M525.0 1336.0V1291.3M529.1 1336.0V1269.0M533.3 1336.0V1251.8M537.4 1336.0V1273.7M541.6 1336.0V1297.7M545.8 1336.0V1311.9M549.9 1336.0V1315.6M554.1 1336.0V1314.4M558.2 1336.0V1330.8M562.4 1336.0V1341.3M566.6 1336.0V1340.4M570.7 1336.0V1322.5M574.9 1336.0V1334.2M579.0 1336.0V1347.2M583.2 1336.0V1337.9M587.4 1336.0V1330.3M591.5 1336.0V1348.0M595.7 1336.0V1392.8M599.8 1336.0V1374.0M604.0 1336.0V1365.6M608.2 1336.0V1385.7M612.3 1336.0V1357.5M616.5 1336.0V1349.2M620.6 1336.0V1321.0M624.8 1336.0V1324.4M629.0 1336.0V1355.1M633.1 1336.0V1349.2M637.3 1336.0V1359.7M641.4 1336.0V1356.3M645.6 1336.0V1342.1M649.8 1336.0V1327.4M653.9 1336.0V1296.2M658.1 1336.0V1315.1M662.2 1336.0V1316.3M666.4 1336.0V1316.3M670.6 1336.0V1303.8M674.7 1336.0V1323.2M678.9 1336.0V1329.1M683.0 1336.0V1345.8M687.2 1336.0V1334.7M691.4 1336.0V1371.3M695.5 1336.0V1398.7M699.7 1336.0V1423.7M703.8 1336.0V1416.9M708.0 1336.0V1415.7M712.2 1336.0V1421.3M716.3 1336.0V1377.2M720.5 1336.0V1377.2M724.6 1336.0V1373.5M728.8 1336.0V1362.9M733.0 1336.0V1337.4M737.1 1336.0V1343.3M741.3 1336.0V1322.7M745.4 1336.0V1323.4M749.6 1336.0V1316.3M753.8 1336.0V1306.5M757.9 1336.0V1305.8M762.1 1336.0V1308.2M766.2 1336.0V1321.0M770.4 1336.0V1318.8M774.6 1336.0V1307.0M778.7 1336.0V1323.4M782.9 1336.0V1329.3M787.0 1336.0V1326.9M791.2 1336.0V1323.4M795.4 1336.0V1306.5M799.5 1336.0V1320.5M803.7 1336.0V1355.1M807.8 1336.0V1368.3M812.0 1336.0V1386.2M816.2 1336.0V1351.6M820.3 1336.0V1372.2M824.5 1336.0V1361.0M828.6 1336.0V1358.5M832.8 1336.0V1374.5M837.0 1336.0V1371.8M841.1 1336.0V1391.6M845.3 1336.0V1395.5M849.4 1336.0V1413.4M853.6 1336.0V1399.5M857.8 1336.0V1394.3M861.9 1336.0V1395.5M866.1 1336.0V1394.3M870.2 1336.0V1378.4M874.4 1336.0V1410.3M878.6 1336.0V1408.8M882.7 1336.0V1408.8M886.9 1336.0V1422.8M891.0 1336.0V1435.3M895.2 1336.0V1436.5M899.4 1336.0V1458.6M903.5 1336.0V1452.7M907.7 1336.0V1447.3M911.8 1336.0V1444.6M916.0 1336.0V1440.7" stroke="#ff0000" stroke-width="2" fill="none"/>
<use href="#ast" x="88.2" y="1380.1"/><use href="#ast" x="92.3" y="1383.8"/><use href="#ast" x="96.5" y="1383.8"/><use href="#ast" x="100.6" y="1369.3"/><use href="#ast" x="104.8" y="1367.8"/><use href="#ast" x="109.0" y="1375.9"/><use href="#ast" x="113.1" y="1380.1"/><use href="#ast" x="117.3" y="1373.7"/><use href="#ast" x="121.4" y="1371.5"/><use href="#ast" x="125.6" y="1378.1"/><use href="#ast" x="129.8" y="1382.5"/><use href="#ast" x="133.9" y="1380.1"/><use href="#ast" x="138.1" y="1390.6"/><use href="#ast" x="142.2" y="1378.1"/><use href="#ast" x="146.4" y="1373.7"/><use href="#ast" x="150.6" y="1373.7"/><use href="#ast" x="154.7" y="1348.0"/><use href="#ast" x="158.9" y="1346.7"/><use href="#ast" x="163.0" y="1351.2"/><use href="#ast" x="167.2" y="1364.6"/><use href="#ast" x="171.4" y="1373.7"/><use href="#ast" x="175.5" y="1375.9"/><use href="#ast" x="179.7" y="1377.2"/><use href="#ast" x="183.8" y="1381.6"/><use href="#ast" x="188.0" y="1372.7"/><use href="#ast" x="192.2" y="1369.3"/><use href="#ast" x="196.3" y="1368.1"/><use href="#ast" x="200.5" y="1363.7"/><use href="#ast" x="204.6" y="1358.0"/><use href="#ast" x="208.8" y="1350.2"/><use href="#ast" x="213.0" y="1343.3"/><use href="#ast" x="217.1" y="1331.0"/><use href="#ast" x="221.3" y="1333.3"/><use href="#ast" x="225.4" y="1334.5"/><use href="#ast" x="229.6" y="1340.1"/><use href="#ast" x="233.8" y="1341.1"/><use href="#ast" x="237.9" y="1333.3"/><use href="#ast" x="242.1" y="1331.0"/><use href="#ast" x="246.2" y="1352.4"/><use href="#ast" x="250.4" y="1361.5"/><use href="#ast" x="254.6" y="1360.2"/><use href="#ast" x="258.7" y="1358.0"/><use href="#ast" x="262.9" y="1345.5"/><use href="#ast" x="267.0" y="1343.3"/><use href="#ast" x="271.2" y="1355.8"/><use href="#ast" x="275.4" y="1355.8"/><use href="#ast" x="279.5" y="1346.7"/><use href="#ast" x="283.7" y="1345.5"/><use href="#ast" x="287.8" y="1344.5"/><use href="#ast" x="292.0" y="1337.7"/><use href="#ast" x="296.2" y="1529.9"/><use href="#ast" x="300.3" y="1508.6"/><use href="#ast" x="304.5" y="1527.7"/><use href="#ast" x="308.6" y="1521.1"/><use href="#ast" x="312.8" y="1508.6"/><use href="#ast" x="317.0" y="1510.8"/><use href="#ast" x="321.1" y="1509.8"/><use href="#ast" x="325.3" y="1522.1"/><use href="#ast" x="329.4" y="1532.2"/><use href="#ast" x="333.6" y="1519.9"/><use href="#ast" x="337.8" y="1515.5"/><use href="#ast" x="341.9" y="1515.5"/><use href="#ast" x="346.1" y="1507.6"/><use href="#ast" x="350.2" y="1453.4"/><use href="#ast" x="354.4" y="1443.4"/><use href="#ast" x="358.6" y="1443.4"/><use href="#ast" x="362.7" y="1445.6"/><use href="#ast" x="366.9" y="1468.1"/><use href="#ast" x="371.0" y="1460.3"/><use href="#ast" x="375.2" y="1453.4"/><use href="#ast" x="379.4" y="1450.2"/><use href="#ast" x="383.5" y="1439.9"/><use href="#ast" x="387.7" y="1444.6"/><use href="#ast" x="391.8" y="1432.1"/><use href="#ast" x="396.0" y="1441.4"/><use href="#ast" x="400.2" y="1434.0"/><use href="#ast" x="404.3" y="1446.3"/><use href="#ast" x="408.5" y="1434.0"/><use href="#ast" x="412.6" y="1454.4"/><use href="#ast" x="416.8" y="1447.0"/><use href="#ast" x="421.0" y="1445.8"/><use href="#ast" x="425.1" y="1432.3"/><use href="#ast" x="429.3" y="1448.3"/><use href="#ast" x="433.4" y="1448.3"/><use href="#ast" x="437.6" y="1418.8"/><use href="#ast" x="441.8" y="1433.6"/><use href="#ast" x="445.9" y="1433.6"/><use href="#ast" x="450.1" y="1449.5"/><use href="#ast" x="454.2" y="1458.1"/><use href="#ast" x="458.4" y="1485.1"/><use href="#ast" x="462.6" y="1474.0"/><use href="#ast" x="466.7" y="1458.1"/><use href="#ast" x="470.9" y="1460.5"/><use href="#ast" x="475.0" y="1442.1"/><use href="#ast" x="479.2" y="1423.7"/><use href="#ast" x="483.4" y="1400.5"/><use href="#ast" x="487.5" y="1375.9"/><use href="#ast" x="491.7" y="1363.7"/><use href="#ast" x="495.8" y="1351.4"/><use href="#ast" x="500.0" y="1329.6"/><use href="#ast" x="504.2" y="1341.3"/><use href="#ast" x="508.3" y="1341.3"/><use href="#ast" x="512.5" y="1335.5"/><use href="#ast" x="516.6" y="1341.3"/><use href="#ast" x="520.8" y="1323.7"/><use href="#ast" x="525.0" y="1291.3"/><use href="#ast" x="529.1" y="1269.0"/><use href="#ast" x="533.3" y="1251.8"/><use href="#ast" x="537.4" y="1273.7"/><use href="#ast" x="541.6" y="1297.7"/><use href="#ast" x="545.8" y="1311.9"/><use href="#ast" x="549.9" y="1315.6"/><use href="#ast" x="554.1" y="1314.4"/><use href="#ast" x="558.2" y="1330.8"/><use href="#ast" x="562.4" y="1341.3"/><use href="#ast" x="566.6" y="1340.4"/><use href="#ast" x="570.7" y="1322.5"/><use href="#ast" x="574.9" y="1334.2"/><use href="#ast" x="579.0" y="1347.2"/><use href="#ast" x="583.2" y="1337.9"/><use href="#ast" x="587.4" y="1330.3"/><use href="#ast" x="591.5" y="1348.0"/><use href="#ast" x="595.7" y="1392.8"/><use href="#ast" x="599.8" y="1374.0"/><use href="#ast" x="604.0" y="1365.6"/><use href="#ast" x="608.2" y="1385.7"/><use href="#ast" x="612.3" y="1357.5"/><use href="#ast" x="616.5" y="1349.2"/><use href="#ast" x="620.6" y="1321.0"/><use href="#ast" x="624.8" y="1324.4"/><use href="#ast" x="629.0" y="1355.1"/><use href="#ast" x="633.1" y="1349.2"/><use href="#ast" x="637.3" y="1359.7"/><use href="#ast" x="641.4" y="1356.3"/><use href="#ast" x="645.6" y="1342.1"/><use href="#ast" x="649.8" y="1327.4"/><use href="#ast" x="653.9" y="1296.2"/><use href="#ast" x="658.1" y="1315.1"/><use href="#ast" x="662.2" y="1316.3"/><use href="#ast" x="666.4" y="1316.3"/><use href="#ast" x="670.6" y="1303.8"/><use href="#ast" x="674.7" y="1323.2"/><use href="#ast" x="678.9" y="1329.1"/><use href="#ast" x="683.0" y="1345.8"/><use href="#ast" x="687.2" y="1334.7"/><use href="#ast" x="691.4" y="1371.3"/><use href="#ast" x="695.5" y="1398.7"/><use href="#ast" x="699.7" y="1423.7"/><use href="#ast" x="703.8" y="1416.9"/><use href="#ast" x="708.0" y="1415.7"/><use href="#ast" x="712.2" y="1421.3"/><use href="#ast" x="716.3" y="1377.2"/><use href="#ast" x="720.5" y="1377.2"/><use href="#ast" x="724.6" y="1373.5"/><use href="#ast" x="728.8" y="1362.9"/><use href="#ast" x="733.0" y="1337.4"/><use href="#ast" x="737.1" y="1343.3"/><use href="#ast" x="741.3" y="1322.7"/><use href="#ast" x="745.4" y="1323.4"/><use href="#ast" x="749.6" y="1316.3"/><use href="#ast" x="753.8" y="1306.5"/><use href="#ast" x="757.9" y="1305.8"/><use href="#ast" x="762.1" y="1308.2"/><use href="#ast" x="766.2" y="1321.0"/><use href="#ast" x="770.4" y="1318.8"/><use href="#ast" x="774.6" y="1307.0"/><use href="#ast" x="778.7" y="1323.4"/><use href="#ast" x="782.9" y="1329.3"/><use href="#ast" x="787.0" y="1326.9"/><use href="#ast" x="791.2" y="1323.4"/><use href="#ast" x="795.4" y="1306.5"/><use href="#ast" x="799.5" y="1320.5"/><use href="#ast" x="803.7" y="1355.1"/><use href="#ast" x="807.8" y="1368.3"/><use href="#ast" x="812.0" y="1386.2"/><use href="#ast" x="816.2" y="1351.6"/><use href="#ast" x="820.3" y="1372.2"/><use href="#ast" x="824.5" y="1361.0"/><use href="#ast" x="828.6" y="1358.5"/><use href="#ast" x="832.8" y="1374.5"/><use href="#ast" x="837.0" y="1371.8"/><use href="#ast" x="841.1" y="1391.6"/><use href="#ast" x="845.3" y="1395.5"/><use href="#ast" x="849.4" y="1413.4"/><use href="#ast" x="853.6" y="1399.5"/><use href="#ast" x="857.8" y="1394.3"/><use href="#ast" x="861.9" y="1395.5"/><use href="#ast" x="866.1" y="1394.3"/><use href="#ast" x="870.2" y="1378.4"/><use href="#ast" x="874.4" y="1410.3"/><use href="#ast" x="878.6" y="1408.8"/><use href="#ast" x="882.7" y="1408.8"/><use href="#ast" x="886.9" y="1422.8"/><use href="#ast" x="891.0" y="1435.3"/><use href="#ast" x="895.2" y="1436.5"/><use href="#ast" x="899.4" y="1458.6"/><use href="#ast" x="903.5" y="1452.7"/><use href="#ast" x="907.7" y="1447.3"/><use href="#ast" x="911.8" y="1444.6"/><use href="#ast" x="916.0" y="1440.7"/>
<text x="64.6" y="1631.9" font-size="28.6" text-anchor="end">1.0</text>
<text x="64.6" y="1753.7" font-size="28.6" text-anchor="end">0.5</text>
<text x="64.6" y="1875.4" font-size="28.6" text-anchor="end">0.0</text>
<text x="64.6" y="1997.2" font-size="28.6" text-anchor="end">-0.5</text>
<text x="64.6" y="2118.9" font-size="28.6" text-anchor="end">-1.0</text>
<text transform="translate(21 1867.4) rotate(-90)" font-size="30" text-anchor="middle">Error</text>
<text x="90.5" y="1906.6" font-size="28" text-anchor="middle">0</text>
<text x="298.5" y="1906.6" font-size="28" text-anchor="middle">50</text>
<text x="506.5" y="1906.6" font-size="28" text-anchor="middle">100</text>
<text x="714.5" y="1906.6" font-size="28" text-anchor="middle">150</text>
<text x="922.5" y="1906.6" font-size="28" text-anchor="middle">200</text>
<circle cx="153.2" cy="1647.6" r="11" fill="url(#gb)"/>
<text x="194.6" y="1657.3" font-size="30" textLength="245.5" lengthAdjust="spacingAndGlyphs">PCA-BOA-LSSVM</text>
<path d="M487 1647.6H511M499 1635.6V1659.6M487.5 1636.1L510.5 1659.1M487.5 1659.1L510.5 1636.1" stroke="#ff0000" stroke-width="1.9" fill="none"/>
<text x="541" y="1657.3" font-size="30" textLength="175" lengthAdjust="spacingAndGlyphs">BOA-LSSVM</text>
<text x="152.5" y="1746.9" font-size="30" textLength="114.5" lengthAdjust="spacingAndGlyphs">Train set</text>
<text x="319.8" y="1746.9" font-size="30" textLength="93.8" lengthAdjust="spacingAndGlyphs">Test set</text>
<text x="446.4" y="2101.2" font-size="37" textLength="181.5" lengthAdjust="spacingAndGlyphs">t=80 D=250</text>
<line x1="292.5" y1="1690.6" x2="292.5" y2="2089.6" stroke="#000" stroke-width="3" stroke-dasharray="12.4 12.5"/>
<line x1="84.0" y1="1622.4" x2="84.0" y2="2112.4" stroke="#000" stroke-width="3.6"/>
<path d="M72.5 1623.9H84.0M72.5 1745.7H84.0M72.5 1989.2H84.0M72.5 2110.9H84.0M78 1684.8H84.0M78 1806.5H84.0M78 1928.3H84.0M78 2050.0H84.0M188.0 1867.4V1873.6M396.0 1867.4V1873.6M604.0 1867.4V1873.6M812.0 1867.4V1873.6M292.0 1867.4V1877.4M500.0 1867.4V1877.4M708.0 1867.4V1877.4M916.0 1867.4V1877.4" stroke="#000" stroke-width="3" fill="none"/>
<line x1="72.5" y1="1867.4" x2="921" y2="1867.4" stroke="#000" stroke-width="3.7"/>
<path d="M88.2 1867.4V1866.2M92.3 1867.4V1867.4M96.5 1867.6V1868.6M100.6 1867.4V1868.6M104.8 1867.4V1867.4M113.1 1867.4V1865.0M117.3 1867.4V1866.2M121.4 1867.4V1867.4M125.6 1867.4V1868.6M129.8 1867.4V1868.6M133.9 1867.4V1868.6M138.1 1867.4V1868.6M142.2 1867.4V1869.8M146.4 1867.4V1869.8M150.6 1867.4V1869.8M154.7 1867.4V1869.8M158.9 1867.4V1869.8M163.0 1867.4V1869.8M167.2 1867.4V1882.3M171.4 1867.4V1881.3M175.5 1867.4V1883.2M179.7 1867.4V1886.9M183.8 1871.1V1894.7M188.0 1877.1V1911.5M192.2 1880.1V1892.5M196.3 1867.4V1864.2M200.5 1867.4V1864.2M204.6 1867.4V1864.2M208.8 1867.4V1864.2M213.0 1867.4V1864.2M217.1 1867.4V1864.2M221.3 1867.4V1864.2M225.4 1867.4V1864.2M229.6 1867.4V1864.2M233.8 1867.4V1864.2M237.9 1867.4V1865.0M242.1 1867.4V1866.2M246.2 1867.4V1869.8M250.4 1867.4V1869.8M254.6 1867.4V1869.8M258.7 1867.4V1870.3M262.9 1867.4V1870.3M267.0 1867.4V1869.8M271.2 1867.4V1869.8M275.4 1867.4V1869.8M279.5 1867.4V1868.6M283.7 1867.4V1867.4M287.8 1867.4V1866.2M292.0 1867.4V1868.1M296.2 1867.4V1868.1M300.3 1867.4V1882.0M304.5 1867.4V1887.1M308.6 1867.4V1894.2M312.8 1867.4V1896.1M317.0 1889.3V1911.2M321.1 1884.9V1892.7M325.3 1891.8V1892.7M329.4 1898.3V1909.5M570.7 1996.2V2006.2M574.9 2005.2V2006.2M579.0 2001.8V2053.7M583.2 2001.8V2045.6M587.4 1995.2V2006.2M591.5 1977.0V2006.2M595.7 1944.6V2013.5M599.8 1919.3V1995.2M604.0 1896.9V1957.5M608.2 1910.3V1983.1M612.3 1928.3V1995.2M616.5 1935.1V1968.9M620.6 1924.9V1973.3M624.8 1936.3V1984.0M629.0 1937.3V1960.4M633.1 1941.9V1948.7M637.3 1936.3V1938.5M641.4 1912.7V1941.9M645.6 1916.1V1952.1M649.8 1919.3V1956.5M653.9 1904.7V1956.5M658.1 1890.0V1940.7M662.2 1896.9V1932.9M670.6 1910.3V1921.7M674.7 1894.7V1916.1M678.9 1911.5V1917.1M683.0 1879.1V1925.1M728.8 1867.4V1859.1M737.1 1867.4V1864.7M770.4 1867.4V1860.8M837.0 2011.3V2013.5M841.1 2023.2V2025.9M845.3 2060.5V2061.7M849.4 2067.1V2073.6M857.8 2056.6V2057.8M874.4 2020.6V2023.2M878.6 2020.6V2023.2M886.9 2004.7V2035.2M891.0 2004.7V2035.2M895.2 1992.8V2035.2M899.4 1995.5V2002.1M903.5 1975.5V1996.7" stroke="#008a00" stroke-width="1.9" fill="none"/>
<use href="#ball" x="88.2" y="1866.2"/><use href="#ball" x="92.3" y="1867.4"/><use href="#ball" x="96.5" y="1868.6"/><use href="#ball" x="100.6" y="1868.6"/><use href="#ball" x="104.8" y="1867.4"/><use href="#ball" x="109.0" y="1868.6"/><use href="#ball" x="113.1" y="1865.0"/><use href="#ball" x="117.3" y="1866.2"/><use href="#ball" x="121.4" y="1867.4"/><use href="#ball" x="125.6" y="1868.6"/><use href="#ball" x="129.8" y="1868.6"/><use href="#ball" x="133.9" y="1868.6"/><use href="#ball" x="138.1" y="1868.6"/><use href="#ball" x="142.2" y="1869.8"/><use href="#ball" x="146.4" y="1869.8"/><use href="#ball" x="150.6" y="1869.8"/><use href="#ball" x="154.7" y="1869.8"/><use href="#ball" x="158.9" y="1869.8"/><use href="#ball" x="163.0" y="1869.8"/><use href="#ball" x="167.2" y="1882.3"/><use href="#ball" x="171.4" y="1881.3"/><use href="#ball" x="175.5" y="1883.2"/><use href="#ball" x="179.7" y="1886.9"/><use href="#ball" x="183.8" y="1894.7"/><use href="#ball" x="188.0" y="1911.5"/><use href="#ball" x="192.2" y="1892.5"/><use href="#ball" x="196.3" y="1864.2"/><use href="#ball" x="200.5" y="1864.2"/><use href="#ball" x="204.6" y="1864.2"/><use href="#ball" x="208.8" y="1864.2"/><use href="#ball" x="213.0" y="1864.2"/><use href="#ball" x="217.1" y="1864.2"/><use href="#ball" x="221.3" y="1864.2"/><use href="#ball" x="225.4" y="1864.2"/><use href="#ball" x="229.6" y="1864.2"/><use href="#ball" x="233.8" y="1864.2"/><use href="#ball" x="237.9" y="1865.0"/><use href="#ball" x="242.1" y="1866.2"/><use href="#ball" x="246.2" y="1869.8"/><use href="#ball" x="250.4" y="1869.8"/><use href="#ball" x="254.6" y="1869.8"/><use href="#ball" x="258.7" y="1870.3"/><use href="#ball" x="262.9" y="1870.3"/><use href="#ball" x="267.0" y="1869.8"/><use href="#ball" x="271.2" y="1869.8"/><use href="#ball" x="275.4" y="1869.8"/><use href="#ball" x="279.5" y="1868.6"/><use href="#ball" x="283.7" y="1867.4"/><use href="#ball" x="287.8" y="1866.2"/><use href="#ball" x="292.0" y="1868.1"/><use href="#ball" x="296.2" y="1868.1"/><use href="#ball" x="300.3" y="1882.0"/><use href="#ball" x="304.5" y="1887.1"/><use href="#ball" x="308.6" y="1894.2"/><use href="#ball" x="312.8" y="1896.1"/><use href="#ball" x="317.0" y="1911.2"/><use href="#ball" x="321.1" y="1892.7"/><use href="#ball" x="325.3" y="1892.7"/><use href="#ball" x="329.4" y="1909.5"/><use href="#ball" x="333.6" y="1908.8"/><use href="#ball" x="337.8" y="1903.9"/><use href="#ball" x="341.9" y="1917.6"/><use href="#ball" x="346.1" y="1917.6"/><use href="#ball" x="350.2" y="1909.5"/><use href="#ball" x="354.4" y="1905.1"/><use href="#ball" x="358.6" y="1900.8"/><use href="#ball" x="362.7" y="1900.8"/><use href="#ball" x="366.9" y="1913.2"/><use href="#ball" x="371.0" y="1913.2"/><use href="#ball" x="375.2" y="1910.7"/><use href="#ball" x="379.4" y="1918.5"/><use href="#ball" x="383.5" y="1921.9"/><use href="#ball" x="387.7" y="1932.2"/><use href="#ball" x="391.8" y="1934.6"/><use href="#ball" x="396.0" y="1943.6"/><use href="#ball" x="400.2" y="1936.8"/><use href="#ball" x="404.3" y="1921.2"/><use href="#ball" x="408.5" y="1940.5"/><use href="#ball" x="412.6" y="1945.8"/><use href="#ball" x="416.8" y="1960.4"/><use href="#ball" x="421.0" y="1956.0"/><use href="#ball" x="425.1" y="1952.6"/><use href="#ball" x="429.3" y="1952.6"/><use href="#ball" x="433.4" y="1967.2"/><use href="#ball" x="437.6" y="1980.6"/><use href="#ball" x="441.8" y="1993.0"/><use href="#ball" x="445.9" y="2003.3"/><use href="#ball" x="450.1" y="1979.7"/><use href="#ball" x="454.2" y="1979.7"/><use href="#ball" x="458.4" y="1978.4"/><use href="#ball" x="462.6" y="1985.3"/><use href="#ball" x="466.7" y="1974.1"/><use href="#ball" x="470.9" y="1971.9"/><use href="#ball" x="475.0" y="1971.9"/><use href="#ball" x="479.2" y="1978.4"/><use href="#ball" x="483.4" y="1979.7"/><use href="#ball" x="487.5" y="1975.0"/><use href="#ball" x="491.7" y="1959.4"/><use href="#ball" x="495.8" y="1952.6"/><use href="#ball" x="500.0" y="1947.8"/><use href="#ball" x="504.2" y="1928.3"/><use href="#ball" x="508.3" y="1912.0"/><use href="#ball" x="512.5" y="1903.9"/><use href="#ball" x="516.6" y="1891.8"/><use href="#ball" x="520.8" y="1886.9"/><use href="#ball" x="525.0" y="1879.6"/><use href="#ball" x="529.1" y="1891.8"/><use href="#ball" x="533.3" y="1901.5"/><use href="#ball" x="537.4" y="1906.4"/><use href="#ball" x="541.6" y="1912.9"/><use href="#ball" x="545.8" y="1919.8"/><use href="#ball" x="549.9" y="1919.8"/><use href="#ball" x="554.1" y="1924.1"/><use href="#ball" x="558.2" y="1914.2"/><use href="#ball" x="562.4" y="1928.8"/><use href="#ball" x="566.6" y="1977.0"/><use href="#ball" x="570.7" y="2006.2"/><use href="#ball" x="574.9" y="2006.2"/><use href="#ball" x="579.0" y="2053.7"/><use href="#ball" x="583.2" y="2045.6"/><use href="#ball" x="587.4" y="2006.2"/><use href="#ball" x="591.5" y="2006.2"/><use href="#ball" x="595.7" y="2013.5"/><use href="#ball" x="599.8" y="1995.2"/><use href="#ball" x="604.0" y="1957.5"/><use href="#ball" x="608.2" y="1983.1"/><use href="#ball" x="612.3" y="1995.2"/><use href="#ball" x="616.5" y="1968.9"/><use href="#ball" x="620.6" y="1973.3"/><use href="#ball" x="624.8" y="1984.0"/><use href="#ball" x="629.0" y="1960.4"/><use href="#ball" x="633.1" y="1948.7"/><use href="#ball" x="637.3" y="1938.5"/><use href="#ball" x="641.4" y="1941.9"/><use href="#ball" x="645.6" y="1952.1"/><use href="#ball" x="649.8" y="1956.5"/><use href="#ball" x="653.9" y="1956.5"/><use href="#ball" x="658.1" y="1940.7"/><use href="#ball" x="662.2" y="1932.9"/><use href="#ball" x="666.4" y="1896.9"/><use href="#ball" x="670.6" y="1921.7"/><use href="#ball" x="674.7" y="1916.1"/><use href="#ball" x="678.9" y="1917.1"/><use href="#ball" x="683.0" y="1925.1"/><use href="#ball" x="687.2" y="1922.7"/><use href="#ball" x="691.4" y="1968.9"/><use href="#ball" x="695.5" y="1951.9"/><use href="#ball" x="699.7" y="1941.9"/><use href="#ball" x="703.8" y="1943.4"/><use href="#ball" x="708.0" y="1921.0"/><use href="#ball" x="712.2" y="1912.9"/><use href="#ball" x="716.3" y="1890.5"/><use href="#ball" x="720.5" y="1899.5"/><use href="#ball" x="724.6" y="1899.5"/><use href="#ball" x="728.8" y="1859.1"/><use href="#ball" x="733.0" y="1875.9"/><use href="#ball" x="737.1" y="1864.7"/><use href="#ball" x="741.3" y="1874.7"/><use href="#ball" x="745.4" y="1878.4"/><use href="#ball" x="749.6" y="1881.5"/><use href="#ball" x="753.8" y="1914.2"/><use href="#ball" x="757.9" y="1914.2"/><use href="#ball" x="762.1" y="1908.6"/><use href="#ball" x="766.2" y="1875.9"/><use href="#ball" x="770.4" y="1860.8"/><use href="#ball" x="774.6" y="1906.4"/><use href="#ball" x="778.7" y="1891.8"/><use href="#ball" x="782.9" y="1894.9"/><use href="#ball" x="787.0" y="1912.9"/><use href="#ball" x="791.2" y="1964.8"/><use href="#ball" x="795.4" y="1967.5"/><use href="#ball" x="799.5" y="1999.4"/><use href="#ball" x="803.7" y="1996.7"/><use href="#ball" x="807.8" y="1982.1"/><use href="#ball" x="812.0" y="2008.6"/><use href="#ball" x="816.2" y="2001.3"/><use href="#ball" x="820.3" y="1995.5"/><use href="#ball" x="824.5" y="1992.8"/><use href="#ball" x="828.6" y="1975.5"/><use href="#ball" x="832.8" y="2007.4"/><use href="#ball" x="837.0" y="2013.5"/><use href="#ball" x="841.1" y="2025.9"/><use href="#ball" x="845.3" y="2061.7"/><use href="#ball" x="849.4" y="2073.6"/><use href="#ball" x="853.6" y="2063.2"/><use href="#ball" x="857.8" y="2057.8"/><use href="#ball" x="861.9" y="2000.8"/><use href="#ball" x="866.1" y="2000.8"/><use href="#ball" x="870.2" y="2000.8"/><use href="#ball" x="874.4" y="2023.2"/><use href="#ball" x="878.6" y="2023.2"/><use href="#ball" x="882.7" y="2014.0"/><use href="#ball" x="886.9" y="2035.2"/><use href="#ball" x="891.0" y="2035.2"/><use href="#ball" x="895.2" y="2035.2"/><use href="#ball" x="899.4" y="2002.1"/><use href="#ball" x="903.5" y="1996.7"/><use href="#ball" x="907.7" y="1955.5"/><use href="#ball" x="911.8" y="1984.8"/><use href="#ball" x="916.0" y="1984.3"/>
<path d="M88.2 1867.4V1868.9M92.3 1867.4V1866.4M96.5 1867.4V1867.6M100.6 1867.4V1862.0M104.8 1867.4V1873.2M109.0 1867.4V1886.6M113.1 1867.4V1876.2M117.3 1867.4V1871.1M121.4 1867.4V1864.2M125.6 1867.4V1863.0M129.8 1867.4V1862.0M133.9 1867.4V1859.9M138.1 1867.4V1862.0M142.2 1867.4V1855.2M146.4 1867.4V1857.7M150.6 1867.4V1858.6M154.7 1867.4V1853.0M158.9 1867.4V1851.8M163.0 1867.4V1850.8M167.2 1867.4V1853.0M171.4 1867.4V1855.2M175.5 1867.4V1857.7M179.7 1867.4V1859.9M183.8 1867.4V1871.1M188.0 1867.4V1877.1M192.2 1867.4V1880.1M196.3 1867.4V1880.1M200.5 1867.4V1877.9M204.6 1867.4V1875.4M208.8 1867.4V1872.0M213.0 1867.4V1883.5M217.1 1867.4V1886.9M221.3 1867.4V1886.9M225.4 1867.4V1872.0M229.6 1867.4V1871.1M233.8 1867.4V1871.1M237.9 1867.4V1873.2M242.1 1867.4V1867.6M246.2 1867.4V1855.2M250.4 1867.4V1848.4M254.6 1867.4V1854.0M258.7 1867.4V1854.0M262.9 1867.4V1847.4M267.0 1867.4V1851.8M271.2 1867.4V1853.0M275.4 1867.4V1854.0M279.5 1867.4V1856.4M283.7 1867.4V1898.1M287.8 1867.4V1889.1M292.0 1867.4V1857.7M296.2 1867.4V1855.2M300.3 1867.4V1863.5M304.5 1867.4V1863.5M308.6 1867.4V1865.7M312.8 1867.4V1866.9M317.0 1867.4V1889.3M321.1 1867.4V1884.9M325.3 1867.4V1891.8M329.4 1867.4V1898.3M333.6 1867.4V1918.5M337.8 1867.4V1926.6M341.9 1867.4V1940.0M346.1 1867.4V1939.0M350.2 1867.4V1943.4M354.4 1867.4V1951.4M358.6 1867.4V1952.4M362.7 1867.4V1951.4M366.9 1867.4V1951.9M371.0 1867.4V1967.0M375.2 1867.4V1960.2M379.4 1867.4V1962.4M383.5 1867.4V1966.0M387.7 1867.4V1971.6M391.8 1867.4V1981.6M396.0 1867.4V1993.0M400.2 1867.4V1984.0M404.3 1867.4V1974.1M408.5 1867.4V1983.1M412.6 1867.4V1987.4M416.8 1867.4V1993.0M421.0 1867.4V1992.1M425.1 1867.4V1992.1M429.3 1867.4V1987.4M433.4 1867.4V1998.6M437.6 1867.4V2019.1M441.8 1867.4V2023.5M445.9 1867.4V2035.9M450.1 1867.4V2033.7M454.2 1867.4V2007.7M458.4 1867.4V2015.7M462.6 1867.4V2020.1M466.7 1867.4V2032.5M470.9 1867.4V2020.1M475.0 1867.4V2028.1M479.2 1867.4V2032.5M483.4 1867.4V2034.7M487.5 1867.4V2030.3M491.7 1867.4V2031.5M495.8 1867.4V2030.1M500.0 1867.4V2013.5M504.2 1867.4V2013.0M508.3 1867.4V2007.4M512.5 1867.4V2004.2M516.6 1867.4V1999.6M520.8 1867.4V2005.7M525.0 1867.4V2004.2M529.1 1867.4V2017.6M533.3 1867.4V2022.3M537.4 1867.4V2032.2M541.6 1867.4V2045.9M545.8 1867.4V2044.7M549.9 1867.4V2044.7M554.1 1867.4V2052.5M558.2 1867.4V2022.3M562.4 1867.4V2021.0M566.6 1867.4V2015.4M570.7 1867.4V1996.2M574.9 1867.4V2005.2M579.0 1867.4V2001.8M583.2 1867.4V2001.8M587.4 1867.4V1995.2M591.5 1867.4V1977.0M595.7 1867.4V1944.6M599.8 1867.4V1919.3M604.0 1867.4V1896.9M608.2 1867.4V1910.3M612.3 1867.4V1928.3M616.5 1867.4V1935.1M620.6 1867.4V1924.9M624.8 1867.4V1936.3M629.0 1867.4V1937.3M633.1 1867.4V1941.9M637.3 1867.4V1936.3M641.4 1867.4V1912.7M645.6 1867.4V1916.1M649.8 1867.4V1919.3M653.9 1867.4V1904.7M658.1 1867.4V1890.0M662.2 1867.4V1896.9M666.4 1867.4V1935.1M670.6 1867.4V1910.3M674.7 1867.4V1894.7M678.9 1867.4V1911.5M683.0 1867.4V1879.1M687.2 1867.4V1944.1M691.4 1867.4V1973.3M695.5 1867.4V1959.9M699.7 1867.4V1942.9M703.8 1867.4V1944.6M708.0 1867.4V1926.6M712.2 1867.4V1915.4M716.3 1867.4V1930.0M720.5 1867.4V1931.0M724.6 1867.4V1945.6M728.8 1867.4V1928.8M733.0 1867.4V1942.2M737.1 1867.4V1928.8M741.3 1867.4V1937.8M745.4 1867.4V1933.1M749.6 1867.4V1941.2M753.8 1867.4V1960.2M757.9 1867.4V1966.0M762.1 1867.4V1959.2M766.2 1867.4V1958.0M770.4 1867.4V1952.4M774.6 1867.4V1964.8M778.7 1867.4V1962.4M782.9 1867.4V1962.4M787.0 1867.4V1980.6M791.2 1867.4V2013.5M795.4 1867.4V2014.0M799.5 1867.4V2027.4M803.7 1867.4V2023.2M807.8 1867.4V2015.2M812.0 1867.4V2029.8M816.2 1867.4V2036.6M820.3 1867.4V2007.4M824.5 1867.4V2011.3M828.6 1867.4V1995.5M832.8 1867.4V2011.3M837.0 1867.4V2011.3M841.1 1867.4V2023.2M845.3 1867.4V2060.5M849.4 1867.4V2067.1M853.6 1867.4V2064.4M857.8 1867.4V2056.6M861.9 1867.4V2031.3M866.1 1867.4V2055.1M870.2 1867.4V2039.3M874.4 1867.4V2020.6M878.6 1867.4V2020.6M882.7 1867.4V2014.0M886.9 1867.4V2004.7M891.0 1867.4V2004.7M895.2 1867.4V1992.8M899.4 1867.4V1995.5M903.5 1867.4V1975.5M907.7 1867.4V2003.3M911.8 1867.4V2011.3M916.0 1867.4V2011.1" stroke="#ff0000" stroke-width="2" fill="none"/>
<use href="#ast" x="88.2" y="1868.9"/><use href="#ast" x="92.3" y="1866.4"/><use href="#ast" x="96.5" y="1867.6"/><use href="#ast" x="100.6" y="1862.0"/><use href="#ast" x="104.8" y="1873.2"/><use href="#ast" x="109.0" y="1886.6"/><use href="#ast" x="113.1" y="1876.2"/><use href="#ast" x="117.3" y="1871.1"/><use href="#ast" x="121.4" y="1864.2"/><use href="#ast" x="125.6" y="1863.0"/><use href="#ast" x="129.8" y="1862.0"/><use href="#ast" x="133.9" y="1859.9"/><use href="#ast" x="138.1" y="1862.0"/><use href="#ast" x="142.2" y="1855.2"/><use href="#ast" x="146.4" y="1857.7"/><use href="#ast" x="150.6" y="1858.6"/><use href="#ast" x="154.7" y="1853.0"/><use href="#ast" x="158.9" y="1851.8"/><use href="#ast" x="163.0" y="1850.8"/><use href="#ast" x="167.2" y="1853.0"/><use href="#ast" x="171.4" y="1855.2"/><use href="#ast" x="175.5" y="1857.7"/><use href="#ast" x="179.7" y="1859.9"/><use href="#ast" x="183.8" y="1871.1"/><use href="#ast" x="188.0" y="1877.1"/><use href="#ast" x="192.2" y="1880.1"/><use href="#ast" x="196.3" y="1880.1"/><use href="#ast" x="200.5" y="1877.9"/><use href="#ast" x="204.6" y="1875.4"/><use href="#ast" x="208.8" y="1872.0"/><use href="#ast" x="213.0" y="1883.5"/><use href="#ast" x="217.1" y="1886.9"/><use href="#ast" x="221.3" y="1886.9"/><use href="#ast" x="225.4" y="1872.0"/><use href="#ast" x="229.6" y="1871.1"/><use href="#ast" x="233.8" y="1871.1"/><use href="#ast" x="237.9" y="1873.2"/><use href="#ast" x="242.1" y="1867.6"/><use href="#ast" x="246.2" y="1855.2"/><use href="#ast" x="250.4" y="1848.4"/><use href="#ast" x="254.6" y="1854.0"/><use href="#ast" x="258.7" y="1854.0"/><use href="#ast" x="262.9" y="1847.4"/><use href="#ast" x="267.0" y="1851.8"/><use href="#ast" x="271.2" y="1853.0"/><use href="#ast" x="275.4" y="1854.0"/><use href="#ast" x="279.5" y="1856.4"/><use href="#ast" x="283.7" y="1898.1"/><use href="#ast" x="287.8" y="1889.1"/><use href="#ast" x="292.0" y="1857.7"/><use href="#ast" x="296.2" y="1855.2"/><use href="#ast" x="300.3" y="1863.5"/><use href="#ast" x="304.5" y="1863.5"/><use href="#ast" x="308.6" y="1865.7"/><use href="#ast" x="312.8" y="1866.9"/><use href="#ast" x="317.0" y="1889.3"/><use href="#ast" x="321.1" y="1884.9"/><use href="#ast" x="325.3" y="1891.8"/><use href="#ast" x="329.4" y="1898.3"/><use href="#ast" x="333.6" y="1918.5"/><use href="#ast" x="337.8" y="1926.6"/><use href="#ast" x="341.9" y="1940.0"/><use href="#ast" x="346.1" y="1939.0"/><use href="#ast" x="350.2" y="1943.4"/><use href="#ast" x="354.4" y="1951.4"/><use href="#ast" x="358.6" y="1952.4"/><use href="#ast" x="362.7" y="1951.4"/><use href="#ast" x="366.9" y="1951.9"/><use href="#ast" x="371.0" y="1967.0"/><use href="#ast" x="375.2" y="1960.2"/><use href="#ast" x="379.4" y="1962.4"/><use href="#ast" x="383.5" y="1966.0"/><use href="#ast" x="387.7" y="1971.6"/><use href="#ast" x="391.8" y="1981.6"/><use href="#ast" x="396.0" y="1993.0"/><use href="#ast" x="400.2" y="1984.0"/><use href="#ast" x="404.3" y="1974.1"/><use href="#ast" x="408.5" y="1983.1"/><use href="#ast" x="412.6" y="1987.4"/><use href="#ast" x="416.8" y="1993.0"/><use href="#ast" x="421.0" y="1992.1"/><use href="#ast" x="425.1" y="1992.1"/><use href="#ast" x="429.3" y="1987.4"/><use href="#ast" x="433.4" y="1998.6"/><use href="#ast" x="437.6" y="2019.1"/><use href="#ast" x="441.8" y="2023.5"/><use href="#ast" x="445.9" y="2035.9"/><use href="#ast" x="450.1" y="2033.7"/><use href="#ast" x="454.2" y="2007.7"/><use href="#ast" x="458.4" y="2015.7"/><use href="#ast" x="462.6" y="2020.1"/><use href="#ast" x="466.7" y="2032.5"/><use href="#ast" x="470.9" y="2020.1"/><use href="#ast" x="475.0" y="2028.1"/><use href="#ast" x="479.2" y="2032.5"/><use href="#ast" x="483.4" y="2034.7"/><use href="#ast" x="487.5" y="2030.3"/><use href="#ast" x="491.7" y="2031.5"/><use href="#ast" x="495.8" y="2030.1"/><use href="#ast" x="500.0" y="2013.5"/><use href="#ast" x="504.2" y="2013.0"/><use href="#ast" x="508.3" y="2007.4"/><use href="#ast" x="512.5" y="2004.2"/><use href="#ast" x="516.6" y="1999.6"/><use href="#ast" x="520.8" y="2005.7"/><use href="#ast" x="525.0" y="2004.2"/><use href="#ast" x="529.1" y="2017.6"/><use href="#ast" x="533.3" y="2022.3"/><use href="#ast" x="537.4" y="2032.2"/><use href="#ast" x="541.6" y="2045.9"/><use href="#ast" x="545.8" y="2044.7"/><use href="#ast" x="549.9" y="2044.7"/><use href="#ast" x="554.1" y="2052.5"/><use href="#ast" x="558.2" y="2022.3"/><use href="#ast" x="562.4" y="2021.0"/><use href="#ast" x="566.6" y="2015.4"/><use href="#ast" x="570.7" y="1996.2"/><use href="#ast" x="574.9" y="2005.2"/><use href="#ast" x="579.0" y="2001.8"/><use href="#ast" x="583.2" y="2001.8"/><use href="#ast" x="587.4" y="1995.2"/><use href="#ast" x="591.5" y="1977.0"/><use href="#ast" x="595.7" y="1944.6"/><use href="#ast" x="599.8" y="1919.3"/><use href="#ast" x="604.0" y="1896.9"/><use href="#ast" x="608.2" y="1910.3"/><use href="#ast" x="612.3" y="1928.3"/><use href="#ast" x="616.5" y="1935.1"/><use href="#ast" x="620.6" y="1924.9"/><use href="#ast" x="624.8" y="1936.3"/><use href="#ast" x="629.0" y="1937.3"/><use href="#ast" x="633.1" y="1941.9"/><use href="#ast" x="637.3" y="1936.3"/><use href="#ast" x="641.4" y="1912.7"/><use href="#ast" x="645.6" y="1916.1"/><use href="#ast" x="649.8" y="1919.3"/><use href="#ast" x="653.9" y="1904.7"/><use href="#ast" x="658.1" y="1890.0"/><use href="#ast" x="662.2" y="1896.9"/><use href="#ast" x="666.4" y="1935.1"/><use href="#ast" x="670.6" y="1910.3"/><use href="#ast" x="674.7" y="1894.7"/><use href="#ast" x="678.9" y="1911.5"/><use href="#ast" x="683.0" y="1879.1"/><use href="#ast" x="687.2" y="1944.1"/><use href="#ast" x="691.4" y="1973.3"/><use href="#ast" x="695.5" y="1959.9"/><use href="#ast" x="699.7" y="1942.9"/><use href="#ast" x="703.8" y="1944.6"/><use href="#ast" x="708.0" y="1926.6"/><use href="#ast" x="712.2" y="1915.4"/><use href="#ast" x="716.3" y="1930.0"/><use href="#ast" x="720.5" y="1931.0"/><use href="#ast" x="724.6" y="1945.6"/><use href="#ast" x="728.8" y="1928.8"/><use href="#ast" x="733.0" y="1942.2"/><use href="#ast" x="737.1" y="1928.8"/><use href="#ast" x="741.3" y="1937.8"/><use href="#ast" x="745.4" y="1933.1"/><use href="#ast" x="749.6" y="1941.2"/><use href="#ast" x="753.8" y="1960.2"/><use href="#ast" x="757.9" y="1966.0"/><use href="#ast" x="762.1" y="1959.2"/><use href="#ast" x="766.2" y="1958.0"/><use href="#ast" x="770.4" y="1952.4"/><use href="#ast" x="774.6" y="1964.8"/><use href="#ast" x="778.7" y="1962.4"/><use href="#ast" x="782.9" y="1962.4"/><use href="#ast" x="787.0" y="1980.6"/><use href="#ast" x="791.2" y="2013.5"/><use href="#ast" x="795.4" y="2014.0"/><use href="#ast" x="799.5" y="2027.4"/><use href="#ast" x="803.7" y="2023.2"/><use href="#ast" x="807.8" y="2015.2"/><use href="#ast" x="812.0" y="2029.8"/><use href="#ast" x="816.2" y="2036.6"/><use href="#ast" x="820.3" y="2007.4"/><use href="#ast" x="824.5" y="2011.3"/><use href="#ast" x="828.6" y="1995.5"/><use href="#ast" x="832.8" y="2011.3"/><use href="#ast" x="837.0" y="2011.3"/><use href="#ast" x="841.1" y="2023.2"/><use href="#ast" x="845.3" y="2060.5"/><use href="#ast" x="849.4" y="2067.1"/><use href="#ast" x="853.6" y="2064.4"/><use href="#ast" x="857.8" y="2056.6"/><use href="#ast" x="861.9" y="2031.3"/><use href="#ast" x="866.1" y="2055.1"/><use href="#ast" x="870.2" y="2039.3"/><use href="#ast" x="874.4" y="2020.6"/><use href="#ast" x="878.6" y="2020.6"/><use href="#ast" x="882.7" y="2014.0"/><use href="#ast" x="886.9" y="2004.7"/><use href="#ast" x="891.0" y="2004.7"/><use href="#ast" x="895.2" y="1992.8"/><use href="#ast" x="899.4" y="1995.5"/><use href="#ast" x="903.5" y="1975.5"/><use href="#ast" x="907.7" y="2003.3"/><use href="#ast" x="911.8" y="2011.3"/><use href="#ast" x="916.0" y="2011.1"/>
</svg></body></html>
